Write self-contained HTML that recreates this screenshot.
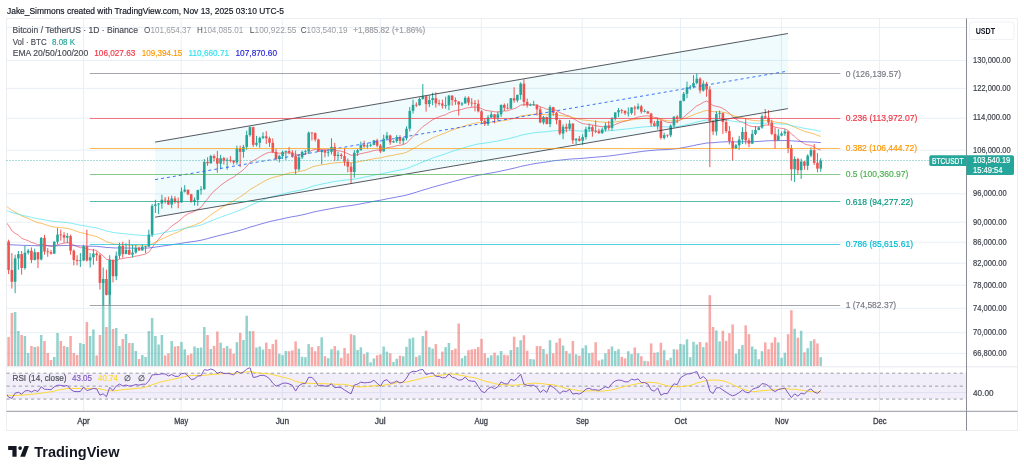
<!DOCTYPE html>
<html><head><meta charset="utf-8"><style>
html,body{margin:0;padding:0;background:#fff;width:1024px;height:473px;overflow:hidden}
svg{display:block;will-change:transform;filter:blur(0.3px)}
text{font-family:"Liberation Sans",sans-serif}
</style></head><body>
<svg width="1024" height="473" viewBox="0 0 1024 473" font-family="Liberation Sans, sans-serif">
<rect width="1024" height="473" fill="#fff"/>
<rect x="6.5" y="18.5" width="1011.0" height="412.0" fill="#fff" stroke="#eceef2" stroke-width="1"/>
<line x1="6.5" y1="27.4" x2="966.5" y2="27.4" stroke="#e8eff6" stroke-width="1"/>
<line x1="6.5" y1="60.4" x2="966.5" y2="60.4" stroke="#e8eff6" stroke-width="1"/>
<line x1="6.5" y1="88.3458985178234" x2="966.5" y2="88.3458985178234" stroke="#e8eff6" stroke-width="1"/>
<line x1="6.5" y1="118.18784090687825" x2="966.5" y2="118.18784090687825" stroke="#e8eff6" stroke-width="1"/>
<line x1="6.5" y1="150.2019567911467" x2="966.5" y2="150.2019567911467" stroke="#e8eff6" stroke-width="1"/>
<line x1="6.5" y1="193.80195395460836" x2="966.5" y2="193.80195395460836" stroke="#e8eff6" stroke-width="1"/>
<line x1="6.5" y1="222.19890325513964" x2="966.5" y2="222.19890325513964" stroke="#e8eff6" stroke-width="1"/>
<line x1="6.5" y1="242.20234784891286" x2="966.5" y2="242.20234784891286" stroke="#e8eff6" stroke-width="1"/>
<line x1="6.5" y1="263.1586894041849" x2="966.5" y2="263.1586894041849" stroke="#e8eff6" stroke-width="1"/>
<line x1="6.5" y1="285.1632744570359" x2="966.5" y2="285.1632744570359" stroke="#e8eff6" stroke-width="1"/>
<line x1="6.5" y1="308.3265171906216" x2="966.5" y2="308.3265171906216" stroke="#e8eff6" stroke-width="1"/>
<line x1="6.5" y1="332.7772516987383" x2="966.5" y2="332.7772516987383" stroke="#e8eff6" stroke-width="1"/>
<line x1="6.5" y1="353.36580276171225" x2="966.5" y2="353.36580276171225" stroke="#e8eff6" stroke-width="1"/>
<line x1="6.5" y1="392.6" x2="966.5" y2="392.6" stroke="#e8eff6" stroke-width="1"/>
<line x1="83.6" y1="18.5" x2="83.6" y2="411.3" stroke="#e8eff6" stroke-width="1"/>
<line x1="181.2" y1="18.5" x2="181.2" y2="411.3" stroke="#e8eff6" stroke-width="1"/>
<line x1="282.3" y1="18.5" x2="282.3" y2="411.3" stroke="#e8eff6" stroke-width="1"/>
<line x1="380.3" y1="18.5" x2="380.3" y2="411.3" stroke="#e8eff6" stroke-width="1"/>
<line x1="481.3" y1="18.5" x2="481.3" y2="411.3" stroke="#e8eff6" stroke-width="1"/>
<line x1="582.2" y1="18.5" x2="582.2" y2="411.3" stroke="#e8eff6" stroke-width="1"/>
<line x1="680.5" y1="18.5" x2="680.5" y2="411.3" stroke="#e8eff6" stroke-width="1"/>
<line x1="781.4" y1="18.5" x2="781.4" y2="411.3" stroke="#e8eff6" stroke-width="1"/>
<line x1="879.4" y1="18.5" x2="879.4" y2="411.3" stroke="#e8eff6" stroke-width="1"/>
<defs><clipPath id="mc"><rect x="7.0" y="19.0" width="959.5" height="347.8"/></clipPath><clipPath id="rc"><rect x="7.0" y="367.3" width="959.5" height="43.5"/></clipPath></defs>
<g clip-path="url(#mc)">
<rect x="7.35" y="337.00" width="2.5" height="29.00" fill="rgba(239,83,80,0.5)"/>
<rect x="10.61" y="313.00" width="2.5" height="53.00" fill="rgba(239,83,80,0.5)"/>
<rect x="13.87" y="312.00" width="2.5" height="54.00" fill="rgba(38,166,154,0.5)"/>
<rect x="17.13" y="331.00" width="2.5" height="35.00" fill="rgba(38,166,154,0.5)"/>
<rect x="20.40" y="335.00" width="2.5" height="31.00" fill="rgba(239,83,80,0.5)"/>
<rect x="23.66" y="336.00" width="2.5" height="30.00" fill="rgba(38,166,154,0.5)"/>
<rect x="26.92" y="353.00" width="2.5" height="13.00" fill="rgba(38,166,154,0.5)"/>
<rect x="30.18" y="346.00" width="2.5" height="20.00" fill="rgba(239,83,80,0.5)"/>
<rect x="33.44" y="347.00" width="2.5" height="19.00" fill="rgba(38,166,154,0.5)"/>
<rect x="36.70" y="346.50" width="2.5" height="19.50" fill="rgba(239,83,80,0.5)"/>
<rect x="39.96" y="335.00" width="2.5" height="31.00" fill="rgba(38,166,154,0.5)"/>
<rect x="43.23" y="341.00" width="2.5" height="25.00" fill="rgba(239,83,80,0.5)"/>
<rect x="46.49" y="353.00" width="2.5" height="13.00" fill="rgba(239,83,80,0.5)"/>
<rect x="49.75" y="360.00" width="2.5" height="6.00" fill="rgba(239,83,80,0.5)"/>
<rect x="53.01" y="357.00" width="2.5" height="9.00" fill="rgba(38,166,154,0.5)"/>
<rect x="56.27" y="333.00" width="2.5" height="33.00" fill="rgba(38,166,154,0.5)"/>
<rect x="59.53" y="341.00" width="2.5" height="25.00" fill="rgba(239,83,80,0.5)"/>
<rect x="62.80" y="346.00" width="2.5" height="20.00" fill="rgba(239,83,80,0.5)"/>
<rect x="66.06" y="347.00" width="2.5" height="19.00" fill="rgba(38,166,154,0.5)"/>
<rect x="69.32" y="336.00" width="2.5" height="30.00" fill="rgba(239,83,80,0.5)"/>
<rect x="72.58" y="353.00" width="2.5" height="13.00" fill="rgba(239,83,80,0.5)"/>
<rect x="75.84" y="355.00" width="2.5" height="11.00" fill="rgba(239,83,80,0.5)"/>
<rect x="79.10" y="343.00" width="2.5" height="23.00" fill="rgba(38,166,154,0.5)"/>
<rect x="82.36" y="344.00" width="2.5" height="22.00" fill="rgba(38,166,154,0.5)"/>
<rect x="85.63" y="322.00" width="2.5" height="44.00" fill="rgba(239,83,80,0.5)"/>
<rect x="88.89" y="336.00" width="2.5" height="30.00" fill="rgba(38,166,154,0.5)"/>
<rect x="92.15" y="329.50" width="2.5" height="36.50" fill="rgba(38,166,154,0.5)"/>
<rect x="95.41" y="355.40" width="2.5" height="10.60" fill="rgba(239,83,80,0.5)"/>
<rect x="98.67" y="335.00" width="2.5" height="31.00" fill="rgba(239,83,80,0.5)"/>
<rect x="101.93" y="281.00" width="2.5" height="85.00" fill="rgba(38,166,154,0.5)"/>
<rect x="105.19" y="327.00" width="2.5" height="39.00" fill="rgba(239,83,80,0.5)"/>
<rect x="108.46" y="291.00" width="2.5" height="75.00" fill="rgba(38,166,154,0.5)"/>
<rect x="111.72" y="329.00" width="2.5" height="37.00" fill="rgba(239,83,80,0.5)"/>
<rect x="114.98" y="328.00" width="2.5" height="38.00" fill="rgba(38,166,154,0.5)"/>
<rect x="118.24" y="346.00" width="2.5" height="20.00" fill="rgba(38,166,154,0.5)"/>
<rect x="121.50" y="339.00" width="2.5" height="27.00" fill="rgba(239,83,80,0.5)"/>
<rect x="124.76" y="334.00" width="2.5" height="32.00" fill="rgba(38,166,154,0.5)"/>
<rect x="128.03" y="343.00" width="2.5" height="23.00" fill="rgba(239,83,80,0.5)"/>
<rect x="131.29" y="343.00" width="2.5" height="23.00" fill="rgba(38,166,154,0.5)"/>
<rect x="134.55" y="351.00" width="2.5" height="15.00" fill="rgba(38,166,154,0.5)"/>
<rect x="137.81" y="359.00" width="2.5" height="7.00" fill="rgba(239,83,80,0.5)"/>
<rect x="141.07" y="355.00" width="2.5" height="11.00" fill="rgba(38,166,154,0.5)"/>
<rect x="144.33" y="357.00" width="2.5" height="9.00" fill="rgba(38,166,154,0.5)"/>
<rect x="147.59" y="331.00" width="2.5" height="35.00" fill="rgba(38,166,154,0.5)"/>
<rect x="150.86" y="318.00" width="2.5" height="48.00" fill="rgba(38,166,154,0.5)"/>
<rect x="154.12" y="336.00" width="2.5" height="30.00" fill="rgba(38,166,154,0.5)"/>
<rect x="157.38" y="344.50" width="2.5" height="21.50" fill="rgba(38,166,154,0.5)"/>
<rect x="160.64" y="335.00" width="2.5" height="31.00" fill="rgba(38,166,154,0.5)"/>
<rect x="163.90" y="355.40" width="2.5" height="10.60" fill="rgba(239,83,80,0.5)"/>
<rect x="167.16" y="353.30" width="2.5" height="12.70" fill="rgba(239,83,80,0.5)"/>
<rect x="170.42" y="341.00" width="2.5" height="25.00" fill="rgba(38,166,154,0.5)"/>
<rect x="173.69" y="346.50" width="2.5" height="19.50" fill="rgba(239,83,80,0.5)"/>
<rect x="176.95" y="346.00" width="2.5" height="20.00" fill="rgba(239,83,80,0.5)"/>
<rect x="180.21" y="342.00" width="2.5" height="24.00" fill="rgba(38,166,154,0.5)"/>
<rect x="183.47" y="349.30" width="2.5" height="16.70" fill="rgba(38,166,154,0.5)"/>
<rect x="186.73" y="355.20" width="2.5" height="10.80" fill="rgba(239,83,80,0.5)"/>
<rect x="189.99" y="353.70" width="2.5" height="12.30" fill="rgba(239,83,80,0.5)"/>
<rect x="193.26" y="346.50" width="2.5" height="19.50" fill="rgba(38,166,154,0.5)"/>
<rect x="196.52" y="348.00" width="2.5" height="18.00" fill="rgba(38,166,154,0.5)"/>
<rect x="199.78" y="347.50" width="2.5" height="18.50" fill="rgba(38,166,154,0.5)"/>
<rect x="203.04" y="327.00" width="2.5" height="39.00" fill="rgba(38,166,154,0.5)"/>
<rect x="206.30" y="335.00" width="2.5" height="31.00" fill="rgba(239,83,80,0.5)"/>
<rect x="209.56" y="349.00" width="2.5" height="17.00" fill="rgba(38,166,154,0.5)"/>
<rect x="212.82" y="345.90" width="2.5" height="20.10" fill="rgba(239,83,80,0.5)"/>
<rect x="216.09" y="331.50" width="2.5" height="34.50" fill="rgba(239,83,80,0.5)"/>
<rect x="219.35" y="342.60" width="2.5" height="23.40" fill="rgba(38,166,154,0.5)"/>
<rect x="222.61" y="348.00" width="2.5" height="18.00" fill="rgba(239,83,80,0.5)"/>
<rect x="225.87" y="346.10" width="2.5" height="19.90" fill="rgba(38,166,154,0.5)"/>
<rect x="229.13" y="348.60" width="2.5" height="17.40" fill="rgba(239,83,80,0.5)"/>
<rect x="232.39" y="353.70" width="2.5" height="12.30" fill="rgba(239,83,80,0.5)"/>
<rect x="235.65" y="342.20" width="2.5" height="23.80" fill="rgba(38,166,154,0.5)"/>
<rect x="238.92" y="332.80" width="2.5" height="33.20" fill="rgba(239,83,80,0.5)"/>
<rect x="242.18" y="340.00" width="2.5" height="26.00" fill="rgba(38,166,154,0.5)"/>
<rect x="245.44" y="315.80" width="2.5" height="50.20" fill="rgba(38,166,154,0.5)"/>
<rect x="248.70" y="331.10" width="2.5" height="34.90" fill="rgba(38,166,154,0.5)"/>
<rect x="251.96" y="331.10" width="2.5" height="34.90" fill="rgba(239,83,80,0.5)"/>
<rect x="255.22" y="347.50" width="2.5" height="18.50" fill="rgba(38,166,154,0.5)"/>
<rect x="258.49" y="346.50" width="2.5" height="19.50" fill="rgba(38,166,154,0.5)"/>
<rect x="261.75" y="349.60" width="2.5" height="16.40" fill="rgba(38,166,154,0.5)"/>
<rect x="265.01" y="342.60" width="2.5" height="23.40" fill="rgba(239,83,80,0.5)"/>
<rect x="268.27" y="349.00" width="2.5" height="17.00" fill="rgba(239,83,80,0.5)"/>
<rect x="271.53" y="344.10" width="2.5" height="21.90" fill="rgba(239,83,80,0.5)"/>
<rect x="274.79" y="339.70" width="2.5" height="26.30" fill="rgba(239,83,80,0.5)"/>
<rect x="278.05" y="353.70" width="2.5" height="12.30" fill="rgba(38,166,154,0.5)"/>
<rect x="281.32" y="355.10" width="2.5" height="10.90" fill="rgba(38,166,154,0.5)"/>
<rect x="284.58" y="351.00" width="2.5" height="15.00" fill="rgba(38,166,154,0.5)"/>
<rect x="287.84" y="351.20" width="2.5" height="14.80" fill="rgba(239,83,80,0.5)"/>
<rect x="291.10" y="350.40" width="2.5" height="15.60" fill="rgba(239,83,80,0.5)"/>
<rect x="294.36" y="341.40" width="2.5" height="24.60" fill="rgba(239,83,80,0.5)"/>
<rect x="297.62" y="348.60" width="2.5" height="17.40" fill="rgba(38,166,154,0.5)"/>
<rect x="300.88" y="356.80" width="2.5" height="9.20" fill="rgba(38,166,154,0.5)"/>
<rect x="304.15" y="357.20" width="2.5" height="8.80" fill="rgba(38,166,154,0.5)"/>
<rect x="307.41" y="344.10" width="2.5" height="21.90" fill="rgba(38,166,154,0.5)"/>
<rect x="310.67" y="347.10" width="2.5" height="18.90" fill="rgba(239,83,80,0.5)"/>
<rect x="313.93" y="351.20" width="2.5" height="14.80" fill="rgba(239,83,80,0.5)"/>
<rect x="317.19" y="346.10" width="2.5" height="19.90" fill="rgba(239,83,80,0.5)"/>
<rect x="320.45" y="337.30" width="2.5" height="28.70" fill="rgba(38,166,154,0.5)"/>
<rect x="323.72" y="356.20" width="2.5" height="9.80" fill="rgba(239,83,80,0.5)"/>
<rect x="326.98" y="358.20" width="2.5" height="7.80" fill="rgba(38,166,154,0.5)"/>
<rect x="330.24" y="349.20" width="2.5" height="16.80" fill="rgba(38,166,154,0.5)"/>
<rect x="333.50" y="346.10" width="2.5" height="19.90" fill="rgba(239,83,80,0.5)"/>
<rect x="336.76" y="350.40" width="2.5" height="15.60" fill="rgba(38,166,154,0.5)"/>
<rect x="340.02" y="357.80" width="2.5" height="8.20" fill="rgba(239,83,80,0.5)"/>
<rect x="343.28" y="348.00" width="2.5" height="18.00" fill="rgba(239,83,80,0.5)"/>
<rect x="346.55" y="353.70" width="2.5" height="12.30" fill="rgba(239,83,80,0.5)"/>
<rect x="349.81" y="334.20" width="2.5" height="31.80" fill="rgba(239,83,80,0.5)"/>
<rect x="353.07" y="335.20" width="2.5" height="30.80" fill="rgba(38,166,154,0.5)"/>
<rect x="356.33" y="350.00" width="2.5" height="16.00" fill="rgba(38,166,154,0.5)"/>
<rect x="359.59" y="347.30" width="2.5" height="18.70" fill="rgba(38,166,154,0.5)"/>
<rect x="362.85" y="354.10" width="2.5" height="11.90" fill="rgba(239,83,80,0.5)"/>
<rect x="366.12" y="352.30" width="2.5" height="13.70" fill="rgba(38,166,154,0.5)"/>
<rect x="369.38" y="362.30" width="2.5" height="3.70" fill="rgba(38,166,154,0.5)"/>
<rect x="372.64" y="358.40" width="2.5" height="7.60" fill="rgba(38,166,154,0.5)"/>
<rect x="375.90" y="355.30" width="2.5" height="10.70" fill="rgba(239,83,80,0.5)"/>
<rect x="379.16" y="354.30" width="2.5" height="11.70" fill="rgba(239,83,80,0.5)"/>
<rect x="382.42" y="346.50" width="2.5" height="19.50" fill="rgba(38,166,154,0.5)"/>
<rect x="385.68" y="351.60" width="2.5" height="14.40" fill="rgba(38,166,154,0.5)"/>
<rect x="388.95" y="353.30" width="2.5" height="12.70" fill="rgba(239,83,80,0.5)"/>
<rect x="392.21" y="361.90" width="2.5" height="4.10" fill="rgba(38,166,154,0.5)"/>
<rect x="395.47" y="358.80" width="2.5" height="7.20" fill="rgba(38,166,154,0.5)"/>
<rect x="398.73" y="355.70" width="2.5" height="10.30" fill="rgba(239,83,80,0.5)"/>
<rect x="401.99" y="356.20" width="2.5" height="9.80" fill="rgba(38,166,154,0.5)"/>
<rect x="405.25" y="346.90" width="2.5" height="19.10" fill="rgba(38,166,154,0.5)"/>
<rect x="408.51" y="338.70" width="2.5" height="27.30" fill="rgba(38,166,154,0.5)"/>
<rect x="411.78" y="337.70" width="2.5" height="28.30" fill="rgba(38,166,154,0.5)"/>
<rect x="415.04" y="356.80" width="2.5" height="9.20" fill="rgba(239,83,80,0.5)"/>
<rect x="418.30" y="355.30" width="2.5" height="10.70" fill="rgba(38,166,154,0.5)"/>
<rect x="421.56" y="336.10" width="2.5" height="29.90" fill="rgba(38,166,154,0.5)"/>
<rect x="424.82" y="330.70" width="2.5" height="35.30" fill="rgba(239,83,80,0.5)"/>
<rect x="428.08" y="347.10" width="2.5" height="18.90" fill="rgba(38,166,154,0.5)"/>
<rect x="431.35" y="348.60" width="2.5" height="17.40" fill="rgba(38,166,154,0.5)"/>
<rect x="434.61" y="344.10" width="2.5" height="21.90" fill="rgba(239,83,80,0.5)"/>
<rect x="437.87" y="358.80" width="2.5" height="7.20" fill="rgba(239,83,80,0.5)"/>
<rect x="441.13" y="351.60" width="2.5" height="14.40" fill="rgba(239,83,80,0.5)"/>
<rect x="444.39" y="347.10" width="2.5" height="18.90" fill="rgba(38,166,154,0.5)"/>
<rect x="447.65" y="343.00" width="2.5" height="23.00" fill="rgba(38,166,154,0.5)"/>
<rect x="450.91" y="350.00" width="2.5" height="16.00" fill="rgba(239,83,80,0.5)"/>
<rect x="454.18" y="348.60" width="2.5" height="17.40" fill="rgba(239,83,80,0.5)"/>
<rect x="457.44" y="323.50" width="2.5" height="42.50" fill="rgba(239,83,80,0.5)"/>
<rect x="460.70" y="358.20" width="2.5" height="7.80" fill="rgba(38,166,154,0.5)"/>
<rect x="463.96" y="355.70" width="2.5" height="10.30" fill="rgba(38,166,154,0.5)"/>
<rect x="467.22" y="350.20" width="2.5" height="15.80" fill="rgba(239,83,80,0.5)"/>
<rect x="470.48" y="349.40" width="2.5" height="16.60" fill="rgba(239,83,80,0.5)"/>
<rect x="473.74" y="349.00" width="2.5" height="17.00" fill="rgba(239,83,80,0.5)"/>
<rect x="477.01" y="347.10" width="2.5" height="18.90" fill="rgba(239,83,80,0.5)"/>
<rect x="480.27" y="338.90" width="2.5" height="27.10" fill="rgba(239,83,80,0.5)"/>
<rect x="483.53" y="353.30" width="2.5" height="12.70" fill="rgba(239,83,80,0.5)"/>
<rect x="486.79" y="357.80" width="2.5" height="8.20" fill="rgba(38,166,154,0.5)"/>
<rect x="490.05" y="355.30" width="2.5" height="10.70" fill="rgba(38,166,154,0.5)"/>
<rect x="493.31" y="352.70" width="2.5" height="13.30" fill="rgba(239,83,80,0.5)"/>
<rect x="496.57" y="355.30" width="2.5" height="10.70" fill="rgba(38,166,154,0.5)"/>
<rect x="499.84" y="351.00" width="2.5" height="15.00" fill="rgba(38,166,154,0.5)"/>
<rect x="503.10" y="354.70" width="2.5" height="11.30" fill="rgba(239,83,80,0.5)"/>
<rect x="506.36" y="355.30" width="2.5" height="10.70" fill="rgba(239,83,80,0.5)"/>
<rect x="509.62" y="350.00" width="2.5" height="16.00" fill="rgba(38,166,154,0.5)"/>
<rect x="512.88" y="336.70" width="2.5" height="29.30" fill="rgba(239,83,80,0.5)"/>
<rect x="516.14" y="347.10" width="2.5" height="18.90" fill="rgba(38,166,154,0.5)"/>
<rect x="519.41" y="340.20" width="2.5" height="25.80" fill="rgba(38,166,154,0.5)"/>
<rect x="522.67" y="335.20" width="2.5" height="30.80" fill="rgba(239,83,80,0.5)"/>
<rect x="525.93" y="350.80" width="2.5" height="15.20" fill="rgba(239,83,80,0.5)"/>
<rect x="529.19" y="359.00" width="2.5" height="7.00" fill="rgba(38,166,154,0.5)"/>
<rect x="532.45" y="359.40" width="2.5" height="6.60" fill="rgba(38,166,154,0.5)"/>
<rect x="535.71" y="346.10" width="2.5" height="19.90" fill="rgba(239,83,80,0.5)"/>
<rect x="538.97" y="346.10" width="2.5" height="19.90" fill="rgba(239,83,80,0.5)"/>
<rect x="542.24" y="349.00" width="2.5" height="17.00" fill="rgba(38,166,154,0.5)"/>
<rect x="545.50" y="354.10" width="2.5" height="11.90" fill="rgba(239,83,80,0.5)"/>
<rect x="548.76" y="340.20" width="2.5" height="25.80" fill="rgba(38,166,154,0.5)"/>
<rect x="552.02" y="353.30" width="2.5" height="12.70" fill="rgba(239,83,80,0.5)"/>
<rect x="555.28" y="342.60" width="2.5" height="23.40" fill="rgba(239,83,80,0.5)"/>
<rect x="558.54" y="338.30" width="2.5" height="27.70" fill="rgba(239,83,80,0.5)"/>
<rect x="561.80" y="345.50" width="2.5" height="20.50" fill="rgba(38,166,154,0.5)"/>
<rect x="565.07" y="351.00" width="2.5" height="15.00" fill="rgba(239,83,80,0.5)"/>
<rect x="568.33" y="353.70" width="2.5" height="12.30" fill="rgba(38,166,154,0.5)"/>
<rect x="571.59" y="341.00" width="2.5" height="25.00" fill="rgba(239,83,80,0.5)"/>
<rect x="574.85" y="354.30" width="2.5" height="11.70" fill="rgba(38,166,154,0.5)"/>
<rect x="578.11" y="355.70" width="2.5" height="10.30" fill="rgba(239,83,80,0.5)"/>
<rect x="581.37" y="348.20" width="2.5" height="17.80" fill="rgba(38,166,154,0.5)"/>
<rect x="584.64" y="345.30" width="2.5" height="20.70" fill="rgba(38,166,154,0.5)"/>
<rect x="587.90" y="353.10" width="2.5" height="12.90" fill="rgba(38,166,154,0.5)"/>
<rect x="591.16" y="352.70" width="2.5" height="13.30" fill="rgba(239,83,80,0.5)"/>
<rect x="594.42" y="342.20" width="2.5" height="23.80" fill="rgba(239,83,80,0.5)"/>
<rect x="597.68" y="360.50" width="2.5" height="5.50" fill="rgba(239,83,80,0.5)"/>
<rect x="600.94" y="359.40" width="2.5" height="6.60" fill="rgba(38,166,154,0.5)"/>
<rect x="604.20" y="353.30" width="2.5" height="12.70" fill="rgba(38,166,154,0.5)"/>
<rect x="607.47" y="349.20" width="2.5" height="16.80" fill="rgba(239,83,80,0.5)"/>
<rect x="610.73" y="346.50" width="2.5" height="19.50" fill="rgba(38,166,154,0.5)"/>
<rect x="613.99" y="351.00" width="2.5" height="15.00" fill="rgba(38,166,154,0.5)"/>
<rect x="617.25" y="349.20" width="2.5" height="16.80" fill="rgba(38,166,154,0.5)"/>
<rect x="620.51" y="356.80" width="2.5" height="9.20" fill="rgba(239,83,80,0.5)"/>
<rect x="623.77" y="358.40" width="2.5" height="7.60" fill="rgba(239,83,80,0.5)"/>
<rect x="627.03" y="351.20" width="2.5" height="14.80" fill="rgba(38,166,154,0.5)"/>
<rect x="630.30" y="354.10" width="2.5" height="11.90" fill="rgba(38,166,154,0.5)"/>
<rect x="633.56" y="347.50" width="2.5" height="18.50" fill="rgba(239,83,80,0.5)"/>
<rect x="636.82" y="353.30" width="2.5" height="12.70" fill="rgba(38,166,154,0.5)"/>
<rect x="640.08" y="356.20" width="2.5" height="9.80" fill="rgba(239,83,80,0.5)"/>
<rect x="643.34" y="360.90" width="2.5" height="5.10" fill="rgba(38,166,154,0.5)"/>
<rect x="646.60" y="361.30" width="2.5" height="4.70" fill="rgba(239,83,80,0.5)"/>
<rect x="649.87" y="343.40" width="2.5" height="22.60" fill="rgba(239,83,80,0.5)"/>
<rect x="653.13" y="352.70" width="2.5" height="13.30" fill="rgba(239,83,80,0.5)"/>
<rect x="656.39" y="352.30" width="2.5" height="13.70" fill="rgba(38,166,154,0.5)"/>
<rect x="659.65" y="342.80" width="2.5" height="23.20" fill="rgba(239,83,80,0.5)"/>
<rect x="662.91" y="350.20" width="2.5" height="15.80" fill="rgba(38,166,154,0.5)"/>
<rect x="666.17" y="360.30" width="2.5" height="5.70" fill="rgba(239,83,80,0.5)"/>
<rect x="669.43" y="357.80" width="2.5" height="8.20" fill="rgba(38,166,154,0.5)"/>
<rect x="672.70" y="349.20" width="2.5" height="16.80" fill="rgba(38,166,154,0.5)"/>
<rect x="675.96" y="349.60" width="2.5" height="16.40" fill="rgba(239,83,80,0.5)"/>
<rect x="679.22" y="343.90" width="2.5" height="22.10" fill="rgba(38,166,154,0.5)"/>
<rect x="682.48" y="344.50" width="2.5" height="21.50" fill="rgba(38,166,154,0.5)"/>
<rect x="685.74" y="339.30" width="2.5" height="26.70" fill="rgba(38,166,154,0.5)"/>
<rect x="689.00" y="357.20" width="2.5" height="8.80" fill="rgba(38,166,154,0.5)"/>
<rect x="692.26" y="341.80" width="2.5" height="24.20" fill="rgba(38,166,154,0.5)"/>
<rect x="695.53" y="344.50" width="2.5" height="21.50" fill="rgba(38,166,154,0.5)"/>
<rect x="698.79" y="342.00" width="2.5" height="24.00" fill="rgba(239,83,80,0.5)"/>
<rect x="702.05" y="347.10" width="2.5" height="18.90" fill="rgba(38,166,154,0.5)"/>
<rect x="705.31" y="342.40" width="2.5" height="23.60" fill="rgba(239,83,80,0.5)"/>
<rect x="708.57" y="295.20" width="2.5" height="70.80" fill="rgba(239,83,80,0.5)"/>
<rect x="711.83" y="327.00" width="2.5" height="39.00" fill="rgba(239,83,80,0.5)"/>
<rect x="715.10" y="330.50" width="2.5" height="35.50" fill="rgba(38,166,154,0.5)"/>
<rect x="718.36" y="341.40" width="2.5" height="24.60" fill="rgba(38,166,154,0.5)"/>
<rect x="721.62" y="330.70" width="2.5" height="35.30" fill="rgba(239,83,80,0.5)"/>
<rect x="724.88" y="340.80" width="2.5" height="25.20" fill="rgba(239,83,80,0.5)"/>
<rect x="728.14" y="333.20" width="2.5" height="32.80" fill="rgba(239,83,80,0.5)"/>
<rect x="731.40" y="324.40" width="2.5" height="41.60" fill="rgba(239,83,80,0.5)"/>
<rect x="734.66" y="353.70" width="2.5" height="12.30" fill="rgba(38,166,154,0.5)"/>
<rect x="737.93" y="349.00" width="2.5" height="17.00" fill="rgba(38,166,154,0.5)"/>
<rect x="741.19" y="345.10" width="2.5" height="20.90" fill="rgba(38,166,154,0.5)"/>
<rect x="744.45" y="325.40" width="2.5" height="40.60" fill="rgba(239,83,80,0.5)"/>
<rect x="747.71" y="334.20" width="2.5" height="31.80" fill="rgba(239,83,80,0.5)"/>
<rect x="750.97" y="346.50" width="2.5" height="19.50" fill="rgba(38,166,154,0.5)"/>
<rect x="754.23" y="349.20" width="2.5" height="16.80" fill="rgba(38,166,154,0.5)"/>
<rect x="757.50" y="359.20" width="2.5" height="6.80" fill="rgba(38,166,154,0.5)"/>
<rect x="760.76" y="351.20" width="2.5" height="14.80" fill="rgba(38,166,154,0.5)"/>
<rect x="764.02" y="342.40" width="2.5" height="23.60" fill="rgba(239,83,80,0.5)"/>
<rect x="767.28" y="349.20" width="2.5" height="16.80" fill="rgba(239,83,80,0.5)"/>
<rect x="770.54" y="342.60" width="2.5" height="23.40" fill="rgba(239,83,80,0.5)"/>
<rect x="773.80" y="337.30" width="2.5" height="28.70" fill="rgba(239,83,80,0.5)"/>
<rect x="777.06" y="342.40" width="2.5" height="23.60" fill="rgba(38,166,154,0.5)"/>
<rect x="780.33" y="357.80" width="2.5" height="8.20" fill="rgba(38,166,154,0.5)"/>
<rect x="783.59" y="352.70" width="2.5" height="13.30" fill="rgba(38,166,154,0.5)"/>
<rect x="786.85" y="334.20" width="2.5" height="31.80" fill="rgba(239,83,80,0.5)"/>
<rect x="790.11" y="310.20" width="2.5" height="55.80" fill="rgba(239,83,80,0.5)"/>
<rect x="793.37" y="328.70" width="2.5" height="37.30" fill="rgba(38,166,154,0.5)"/>
<rect x="796.63" y="337.70" width="2.5" height="28.30" fill="rgba(239,83,80,0.5)"/>
<rect x="799.89" y="330.70" width="2.5" height="35.30" fill="rgba(38,166,154,0.5)"/>
<rect x="803.16" y="352.30" width="2.5" height="13.70" fill="rgba(239,83,80,0.5)"/>
<rect x="806.42" y="348.20" width="2.5" height="17.80" fill="rgba(38,166,154,0.5)"/>
<rect x="809.68" y="341.00" width="2.5" height="25.00" fill="rgba(38,166,154,0.5)"/>
<rect x="812.94" y="339.30" width="2.5" height="26.70" fill="rgba(239,83,80,0.5)"/>
<rect x="816.20" y="343.40" width="2.5" height="22.60" fill="rgba(239,83,80,0.5)"/>
<rect x="819.46" y="357.20" width="2.5" height="8.80" fill="rgba(38,166,154,0.5)"/>
<polygon points="155.1,142.1 787.9,33.5 787.9,108.6 155.1,217.2" fill="rgba(0,188,212,0.062)"/>
<polyline points="5.34,221.22 8.60,225.64 11.86,230.69 15.12,233.25 18.38,235.20 21.65,238.22 24.91,239.58 28.17,240.63 31.43,242.43 34.69,243.35 37.95,244.86 41.21,244.19 44.48,244.88 47.74,245.57 51.00,246.33 54.26,245.89 57.52,244.80 60.78,243.87 64.05,243.27 67.31,242.58 70.57,243.35 73.83,244.91 77.09,246.42 80.35,247.74 83.61,247.60 86.88,248.81 90.14,249.61 93.40,249.99 96.66,250.48 99.92,253.47 103.18,255.84 106.44,259.41 109.71,259.46 112.97,261.03 116.23,260.52 119.49,259.10 122.75,258.62 126.01,257.79 129.28,257.49 132.54,257.02 135.80,256.14 139.06,255.59 142.32,254.75 145.58,253.97 148.84,252.08 152.11,247.47 155.37,243.19 158.63,239.25 161.89,235.34 165.15,231.88 168.41,229.19 171.67,226.17 174.94,223.82 178.20,221.73 181.46,218.76 184.72,215.91 187.98,213.80 191.24,212.63 194.51,211.39 197.77,209.32 201.03,207.37 204.29,202.84 207.55,198.91 210.81,194.65 214.07,191.04 217.34,188.36 220.60,185.39 223.86,182.98 227.12,180.73 230.38,178.78 233.64,177.19 236.90,174.38 240.17,172.19 243.43,169.72 246.69,166.30 249.95,162.42 253.21,160.71 256.47,158.97 259.74,156.93 263.00,154.92 266.26,153.31 269.52,152.30 272.78,152.26 276.04,152.90 279.30,153.20 282.57,153.07 285.83,152.87 289.09,152.86 292.35,153.12 295.61,154.64 298.87,154.89 302.13,154.60 305.40,154.30 308.66,152.20 311.92,150.34 315.18,149.30 318.44,149.55 321.70,149.61 324.97,149.90 328.23,150.09 331.49,149.78 334.75,150.38 338.01,150.80 341.27,151.29 344.53,152.26 347.80,153.61 351.06,155.32 354.32,155.07 357.58,154.61 360.84,153.67 364.10,152.98 367.37,152.28 370.63,151.56 373.89,150.48 377.15,150.02 380.41,150.16 383.67,149.05 386.93,147.75 390.20,147.23 393.46,146.65 396.72,145.73 399.98,145.26 403.24,144.59 406.50,143.06 409.76,139.89 413.03,136.44 416.29,133.37 419.55,129.97 422.81,126.66 426.07,124.46 429.33,122.08 432.60,119.74 435.86,118.16 439.12,116.75 442.38,115.68 445.64,114.68 448.90,112.82 452.16,111.59 455.43,110.62 458.69,110.04 461.95,109.40 465.21,108.28 468.47,107.74 471.73,107.33 474.99,106.99 478.26,107.39 481.52,108.66 484.78,110.10 488.04,110.79 491.30,111.13 494.56,111.76 497.82,112.01 501.09,111.32 504.35,110.99 507.61,110.77 510.87,109.56 514.13,108.68 517.39,107.35 520.66,105.04 523.92,104.74 527.18,104.79 530.44,104.79 533.70,104.79 536.96,105.22 540.22,106.84 543.49,107.80 546.75,109.32 550.01,109.11 553.27,109.46 556.53,110.46 559.79,112.61 563.05,113.94 566.32,115.32 569.58,116.11 572.84,118.36 576.10,120.26 579.36,122.17 582.62,123.57 585.89,124.10 589.15,124.39 592.41,125.03 595.67,125.62 598.93,126.33 602.19,126.63 605.45,126.53 608.72,126.67 611.98,125.89 615.24,124.59 618.50,123.19 621.76,122.01 625.02,121.16 628.28,120.38 631.55,119.14 634.81,118.13 638.07,117.00 641.33,116.49 644.59,116.01 647.85,115.78 651.12,116.48 654.38,117.38 657.64,117.71 660.90,119.60 664.16,121.05 667.42,122.39 670.68,122.69 673.95,122.11 677.21,121.74 680.47,119.70 683.73,117.16 686.99,114.23 690.25,111.55 693.51,108.75 696.78,105.80 700.04,104.32 703.30,102.31 706.56,101.07 709.82,102.95 713.08,105.59 716.35,106.38 719.61,107.03 722.87,108.44 726.13,110.55 729.39,113.37 732.65,116.61 735.91,119.25 739.18,121.15 742.44,122.16 745.70,123.86 748.96,125.70 752.22,126.48 755.48,126.81 758.75,126.88 762.01,125.85 765.27,125.08 768.53,124.83 771.79,125.69 775.05,127.10 778.31,127.89 781.58,128.42 784.84,128.72 788.10,130.53 791.36,134.08 794.62,136.39 797.88,139.50 801.14,141.55 804.41,143.81 807.67,144.92 810.93,145.42 814.19,147.05 817.45,149.06 820.71,150.14" fill="none" stroke="#f23645" stroke-width="0.85" stroke-opacity="0.72" stroke-linejoin="round"/>
<polyline points="5.34,205.41 8.60,207.78 11.86,210.45 15.12,212.24 18.38,213.81 21.65,215.81 24.91,217.20 28.17,218.47 31.43,220.03 34.69,221.24 37.95,222.68 41.21,223.27 44.48,224.34 47.74,225.40 51.00,226.47 54.26,227.06 57.52,227.35 60.78,227.66 64.05,228.04 67.31,228.36 70.57,229.21 73.83,230.38 77.09,231.54 80.35,232.64 83.61,233.17 86.88,234.21 90.14,235.09 93.40,235.80 96.66,236.55 99.92,238.28 103.18,239.80 106.44,241.84 109.71,242.53 112.97,243.81 116.23,244.27 119.49,244.33 122.75,244.71 126.01,244.91 129.28,245.29 132.54,245.57 135.80,245.66 139.06,245.85 142.32,245.89 145.58,245.92 148.84,245.47 152.11,243.85 155.37,242.23 158.63,240.65 161.89,238.97 165.15,237.39 168.41,236.05 171.67,234.51 174.94,233.20 178.20,231.95 181.46,230.29 184.72,228.62 187.98,227.23 191.24,226.19 194.51,225.13 197.77,223.70 201.03,222.30 204.29,219.77 207.55,217.41 210.81,214.84 214.07,212.47 217.34,210.45 220.60,208.28 223.86,206.32 227.12,204.40 230.38,202.60 233.64,200.95 236.90,198.78 240.17,196.84 243.43,194.77 246.69,192.27 249.95,189.53 253.21,187.69 256.47,185.84 259.74,183.86 263.00,181.89 266.26,180.10 269.52,178.58 272.78,177.50 276.04,176.76 279.30,175.93 282.57,174.96 285.83,173.99 289.09,173.14 292.35,172.44 295.61,172.32 298.87,171.72 302.13,170.92 305.40,170.14 308.66,168.61 311.92,167.16 315.18,166.05 318.44,165.48 321.70,164.87 324.97,164.39 328.23,163.89 331.49,163.21 334.75,162.93 338.01,162.61 341.27,162.35 344.53,162.32 347.80,162.49 351.06,162.85 354.32,162.45 357.58,161.96 360.84,161.28 364.10,160.69 367.37,160.09 370.63,159.48 373.89,158.72 377.15,158.20 380.41,157.93 383.67,157.16 386.93,156.29 390.20,155.74 393.46,155.16 396.72,154.44 399.98,153.89 403.24,153.27 406.50,152.28 409.76,150.58 413.03,148.70 416.29,146.91 419.55,144.93 422.81,142.92 426.07,141.33 429.33,139.64 432.60,137.94 435.86,136.53 439.12,135.19 442.38,133.99 445.64,132.83 448.90,131.31 452.16,130.04 455.43,128.89 458.69,127.90 461.95,126.92 465.21,125.74 468.47,124.81 471.73,123.95 474.99,123.14 478.26,122.67 481.52,122.60 484.78,122.66 488.04,122.45 491.30,122.13 494.56,121.96 497.82,121.66 501.09,120.99 504.35,120.47 507.61,120.00 510.87,119.12 514.13,118.37 517.39,117.43 520.66,116.05 523.92,115.49 527.18,115.08 530.44,114.68 533.70,114.28 536.96,114.09 540.22,114.42 543.49,114.52 546.75,114.89 550.01,114.58 553.27,114.51 556.53,114.73 559.79,115.45 563.05,115.89 566.32,116.39 569.58,116.67 572.84,117.57 576.10,118.38 579.36,119.24 582.62,119.93 585.89,120.28 589.15,120.55 592.41,120.96 595.67,121.36 598.93,121.82 602.19,122.12 605.45,122.25 608.72,122.47 611.98,122.32 615.24,121.93 618.50,121.46 621.76,121.04 625.02,120.73 628.28,120.43 631.55,119.91 634.81,119.47 638.07,118.95 641.33,118.66 644.59,118.37 647.85,118.19 651.12,118.38 654.38,118.68 657.64,118.76 660.90,119.50 664.16,120.10 667.42,120.69 670.68,120.88 673.95,120.71 677.21,120.61 680.47,119.82 683.73,118.77 686.99,117.49 690.25,116.25 693.51,114.90 696.78,113.42 700.04,112.50 703.30,111.33 706.56,110.45 709.82,110.87 713.08,111.66 716.35,111.75 719.61,111.81 722.87,112.21 726.13,112.93 729.39,114.01 732.65,115.31 735.91,116.45 739.18,117.33 742.44,117.89 745.70,118.75 748.96,119.70 752.22,120.25 755.48,120.63 758.75,120.90 762.01,120.71 765.27,120.60 768.53,120.67 771.79,121.18 775.05,121.93 778.31,122.46 781.58,122.89 784.84,123.22 788.10,124.17 791.36,125.86 794.62,127.11 797.88,128.72 801.14,129.96 804.41,131.32 807.67,132.25 810.93,132.94 814.19,134.07 817.45,135.38 820.71,136.34" fill="none" stroke="#ff9800" stroke-width="0.85" stroke-opacity="0.72" stroke-linejoin="round"/>
<polyline points="5.34,210.14 8.60,211.25 11.86,212.55 15.12,213.41 18.38,214.18 21.65,215.18 24.91,215.90 28.17,216.56 31.43,217.38 34.69,218.04 37.95,218.83 41.21,219.19 44.48,219.81 47.74,220.43 51.00,221.06 54.26,221.46 57.52,221.72 60.78,221.98 64.05,222.29 67.31,222.55 70.57,223.10 73.83,223.80 77.09,224.50 80.35,225.19 83.61,225.60 86.88,226.26 90.14,226.86 93.40,227.37 96.66,227.90 99.92,228.93 103.18,229.87 106.44,231.06 109.71,231.62 112.97,232.46 116.23,232.91 119.49,233.16 122.75,233.57 126.01,233.88 129.28,234.29 132.54,234.64 135.80,234.90 139.06,235.20 142.32,235.43 145.58,235.65 148.84,235.63 152.11,235.02 155.37,234.39 158.63,233.76 161.89,233.06 165.15,232.39 168.41,231.82 171.67,231.13 174.94,230.54 178.20,229.96 181.46,229.17 184.72,228.35 187.98,227.65 191.24,227.12 194.51,226.56 197.77,225.81 201.03,225.05 204.29,223.71 207.55,222.43 210.81,221.02 214.07,219.68 217.34,218.50 220.60,217.22 223.86,216.03 227.12,214.84 230.38,213.70 233.64,212.63 236.90,211.26 240.17,210.01 243.43,208.66 246.69,207.08 249.95,205.35 253.21,204.07 256.47,202.77 259.74,201.39 263.00,200.00 266.26,198.69 269.52,197.51 272.78,196.56 276.04,195.78 279.30,194.96 282.57,194.07 285.83,193.17 289.09,192.33 292.35,191.58 295.61,191.12 298.87,190.43 302.13,189.63 305.40,188.84 308.66,187.66 311.92,186.51 315.18,185.53 318.44,184.84 321.70,184.12 324.97,183.48 328.23,182.83 331.49,182.09 334.75,181.56 338.01,181.01 341.27,180.50 344.53,180.12 347.80,179.85 351.06,179.69 354.32,179.14 357.58,178.55 360.84,177.86 364.10,177.21 367.37,176.57 370.63,175.91 373.89,175.18 377.15,174.58 380.41,174.11 383.67,173.38 386.93,172.60 390.20,171.98 393.46,171.35 396.72,170.64 399.98,170.03 403.24,169.38 406.50,168.54 409.76,167.32 413.03,165.99 416.29,164.70 419.55,163.30 422.81,161.87 426.07,160.65 429.33,159.37 432.60,158.07 435.86,156.92 439.12,155.80 442.38,154.75 445.64,153.71 448.90,152.48 452.16,151.38 455.43,150.34 458.69,149.38 461.95,148.42 465.21,147.36 468.47,146.43 471.73,145.54 474.99,144.67 478.26,143.98 481.52,143.51 484.78,143.12 488.04,142.60 491.30,142.02 494.56,141.53 497.82,140.97 501.09,140.23 504.35,139.56 507.61,138.93 510.87,138.08 514.13,137.31 517.39,136.43 520.66,135.32 523.92,134.63 527.18,134.03 530.44,133.43 533.70,132.84 536.96,132.37 540.22,132.17 543.49,131.86 546.75,131.71 550.01,131.21 553.27,130.84 556.53,130.62 559.79,130.68 563.05,130.60 566.32,130.56 569.58,130.42 572.84,130.62 576.10,130.78 579.36,130.97 582.62,131.09 585.89,131.06 589.15,130.98 592.41,130.98 595.67,130.99 598.93,131.03 602.19,131.00 605.45,130.89 608.72,130.83 611.98,130.59 615.24,130.22 618.50,129.81 621.76,129.43 625.02,129.10 628.28,128.78 631.55,128.35 634.81,127.95 638.07,127.51 641.33,127.19 644.59,126.88 647.85,126.61 651.12,126.54 654.38,126.53 657.64,126.42 660.90,126.64 664.16,126.81 667.42,126.98 670.68,126.95 673.95,126.74 677.21,126.57 680.47,126.05 683.73,125.38 686.99,124.60 690.25,123.82 693.51,122.97 696.78,122.05 700.04,121.40 703.30,120.62 706.56,119.98 709.82,120.01 713.08,120.23 716.35,120.11 719.61,119.97 722.87,120.01 726.13,120.23 729.39,120.63 732.65,121.17 735.91,121.63 739.18,121.98 742.44,122.18 745.70,122.53 748.96,122.94 752.22,123.15 755.48,123.28 758.75,123.37 762.01,123.23 765.27,123.12 768.53,123.11 771.79,123.32 775.05,123.66 778.31,123.89 781.58,124.08 784.84,124.22 788.10,124.68 791.36,125.52 794.62,126.16 797.88,126.99 801.14,127.65 804.41,128.38 807.67,128.90 810.93,129.31 814.19,129.95 817.45,130.69 820.71,131.26" fill="none" stroke="#33e0f0" stroke-width="0.85" stroke-opacity="0.72" stroke-linejoin="round"/>
<polyline points="5.34,244.25 8.60,244.50 11.86,244.86 15.12,244.99 18.38,245.08 21.65,245.30 24.91,245.38 28.17,245.43 31.43,245.57 34.69,245.64 37.95,245.77 41.21,245.69 44.48,245.75 47.74,245.81 51.00,245.89 54.26,245.85 57.52,245.74 60.78,245.63 64.05,245.55 67.31,245.45 70.57,245.51 73.83,245.65 77.09,245.80 80.35,245.94 83.61,245.94 86.88,246.09 90.14,246.20 93.40,246.27 96.66,246.36 99.92,246.71 103.18,247.02 106.44,247.47 109.71,247.59 112.97,247.87 116.23,247.94 119.49,247.92 122.75,247.98 126.01,248.00 129.28,248.07 132.54,248.11 135.80,248.11 139.06,248.13 142.32,248.12 145.58,248.11 148.84,247.97 152.11,247.53 155.37,247.08 158.63,246.63 161.89,246.13 165.15,245.65 168.41,245.22 171.67,244.73 174.94,244.29 178.20,243.85 181.46,243.30 184.72,242.73 187.98,242.22 191.24,241.80 194.51,241.36 197.77,240.82 201.03,240.28 204.29,239.42 207.55,238.60 210.81,237.70 214.07,236.83 217.34,236.04 220.60,235.19 223.86,234.38 227.12,233.58 230.38,232.79 233.64,232.03 236.90,231.12 240.17,230.25 243.43,229.34 246.69,228.30 249.95,227.17 253.21,226.27 256.47,225.35 259.74,224.39 263.00,223.42 266.26,222.49 269.52,221.62 272.78,220.87 276.04,220.21 279.30,219.52 282.57,218.79 285.83,218.07 289.09,217.37 292.35,216.71 295.61,216.21 298.87,215.58 302.13,214.90 305.40,214.22 308.66,213.33 311.92,212.46 315.18,211.67 318.44,211.03 321.70,210.38 324.97,209.77 328.23,209.15 331.49,208.49 334.75,207.94 338.01,207.37 341.27,206.83 344.53,206.36 347.80,205.95 351.06,205.59 354.32,205.03 357.58,204.45 360.84,203.82 364.10,203.21 367.37,202.60 370.63,201.99 373.89,201.33 377.15,200.74 380.41,200.22 383.67,199.56 386.93,198.88 390.20,198.28 393.46,197.67 396.72,197.03 399.98,196.43 403.24,195.81 406.50,195.09 409.76,194.17 413.03,193.18 416.29,192.22 419.55,191.18 422.81,190.13 426.07,189.19 429.33,188.21 432.60,187.21 435.86,186.30 439.12,185.39 442.38,184.52 445.64,183.66 448.90,182.69 452.16,181.79 455.43,180.91 458.69,180.08 461.95,179.25 465.21,178.36 468.47,177.54 471.73,176.74 474.99,175.95 478.26,175.25 481.52,174.68 484.78,174.14 488.04,173.54 491.30,172.91 494.56,172.33 497.82,171.71 501.09,171.00 504.35,170.32 507.61,169.66 510.87,168.89 514.13,168.15 517.39,167.36 520.66,166.45 523.92,165.75 527.18,165.11 530.44,164.47 533.70,163.83 536.96,163.25 540.22,162.83 543.49,162.35 546.75,161.95 550.01,161.37 553.27,160.86 556.53,160.44 559.79,160.16 563.05,159.81 566.32,159.49 569.58,159.12 572.84,158.93 576.10,158.73 579.36,158.54 582.62,158.32 585.89,158.02 589.15,157.71 592.41,157.43 595.67,157.17 598.93,156.92 602.19,156.64 605.45,156.32 608.72,156.03 611.98,155.64 615.24,155.19 618.50,154.72 621.76,154.26 625.02,153.83 628.28,153.40 631.55,152.92 634.81,152.46 638.07,151.98 641.33,151.56 644.59,151.14 647.85,150.75 651.12,150.47 654.38,150.22 657.64,149.92 660.90,149.79 664.16,149.65 667.42,149.50 670.68,149.26 673.95,148.92 677.21,148.60 680.47,148.10 683.73,147.53 686.99,146.88 690.25,146.24 693.51,145.57 696.78,144.85 700.04,144.28 703.30,143.63 706.56,143.06 709.82,142.83 713.08,142.72 716.35,142.42 719.61,142.12 722.87,141.92 726.13,141.81 729.39,141.80 732.65,141.87 735.91,141.90 739.18,141.88 742.44,141.78 745.70,141.77 748.96,141.78 752.22,141.71 755.48,141.59 758.75,141.44 762.01,141.19 765.27,140.95 768.53,140.76 771.79,140.69 775.05,140.69 778.31,140.64 781.58,140.57 784.84,140.48 788.10,140.55 791.36,140.83 794.62,141.01 797.88,141.29 801.14,141.48 804.41,141.72 807.67,141.86 810.93,141.94 814.19,142.14 817.45,142.40 820.71,142.57" fill="none" stroke="#3030d8" stroke-width="0.85" stroke-opacity="0.72" stroke-linejoin="round"/>
<rect x="8.10" y="239.65" width="1.0" height="34.37" fill="#ef5350"/>
<rect x="7.30" y="241.44" width="2.6" height="28.59" fill="#ef5350"/>
<rect x="11.36" y="253.08" width="1.0" height="35.48" fill="#ef5350"/>
<rect x="10.56" y="270.03" width="2.6" height="11.76" fill="#ef5350"/>
<rect x="14.62" y="254.66" width="1.0" height="38.48" fill="#26a69a"/>
<rect x="13.82" y="258.36" width="2.6" height="23.44" fill="#26a69a"/>
<rect x="17.88" y="250.99" width="1.0" height="18.66" fill="#26a69a"/>
<rect x="17.08" y="254.13" width="2.6" height="4.23" fill="#26a69a"/>
<rect x="21.15" y="250.99" width="1.0" height="23.59" fill="#ef5350"/>
<rect x="20.35" y="254.13" width="2.6" height="13.88" fill="#ef5350"/>
<rect x="24.41" y="245.80" width="1.0" height="23.85" fill="#26a69a"/>
<rect x="23.61" y="252.71" width="2.6" height="15.30" fill="#26a69a"/>
<rect x="27.67" y="248.90" width="1.0" height="5.75" fill="#26a69a"/>
<rect x="26.87" y="250.73" width="2.6" height="1.99" fill="#26a69a"/>
<rect x="30.93" y="247.35" width="1.0" height="15.81" fill="#ef5350"/>
<rect x="30.13" y="250.73" width="2.6" height="9.22" fill="#ef5350"/>
<rect x="34.19" y="248.64" width="1.0" height="11.84" fill="#26a69a"/>
<rect x="33.39" y="252.19" width="2.6" height="7.76" fill="#26a69a"/>
<rect x="37.45" y="252.03" width="1.0" height="15.98" fill="#ef5350"/>
<rect x="36.65" y="252.19" width="2.6" height="7.23" fill="#ef5350"/>
<rect x="40.71" y="237.12" width="1.0" height="23.37" fill="#26a69a"/>
<rect x="39.91" y="237.87" width="2.6" height="21.54" fill="#26a69a"/>
<rect x="43.98" y="234.85" width="1.0" height="19.81" fill="#ef5350"/>
<rect x="43.18" y="237.87" width="2.6" height="13.63" fill="#ef5350"/>
<rect x="47.24" y="248.13" width="1.0" height="8.64" fill="#ef5350"/>
<rect x="46.44" y="251.42" width="2.6" height="0.80" fill="#ef5350"/>
<rect x="50.50" y="249.94" width="1.0" height="4.71" fill="#ef5350"/>
<rect x="49.70" y="252.14" width="2.6" height="1.47" fill="#ef5350"/>
<rect x="53.76" y="241.18" width="1.0" height="12.95" fill="#26a69a"/>
<rect x="52.96" y="241.79" width="2.6" height="11.81" fill="#26a69a"/>
<rect x="57.02" y="228.11" width="1.0" height="16.15" fill="#26a69a"/>
<rect x="56.22" y="234.59" width="2.6" height="7.20" fill="#26a69a"/>
<rect x="60.28" y="229.59" width="1.0" height="11.08" fill="#ef5350"/>
<rect x="59.48" y="234.45" width="2.6" height="0.80" fill="#ef5350"/>
<rect x="63.55" y="232.09" width="1.0" height="10.63" fill="#ef5350"/>
<rect x="62.75" y="235.10" width="2.6" height="2.52" fill="#ef5350"/>
<rect x="66.81" y="233.09" width="1.0" height="10.14" fill="#26a69a"/>
<rect x="66.01" y="236.11" width="2.6" height="1.52" fill="#26a69a"/>
<rect x="70.07" y="234.59" width="1.0" height="20.06" fill="#ef5350"/>
<rect x="69.27" y="236.11" width="2.6" height="14.62" fill="#ef5350"/>
<rect x="73.33" y="249.42" width="1.0" height="15.89" fill="#ef5350"/>
<rect x="72.53" y="250.73" width="2.6" height="9.22" fill="#ef5350"/>
<rect x="76.59" y="255.18" width="1.0" height="10.13" fill="#ef5350"/>
<rect x="75.79" y="259.95" width="2.6" height="1.07" fill="#ef5350"/>
<rect x="79.85" y="253.08" width="1.0" height="13.85" fill="#26a69a"/>
<rect x="79.05" y="260.35" width="2.6" height="0.80" fill="#26a69a"/>
<rect x="83.11" y="244.77" width="1.0" height="16.25" fill="#26a69a"/>
<rect x="82.31" y="246.31" width="2.6" height="14.17" fill="#26a69a"/>
<rect x="86.38" y="229.59" width="1.0" height="31.96" fill="#ef5350"/>
<rect x="85.58" y="246.31" width="2.6" height="14.17" fill="#ef5350"/>
<rect x="89.64" y="253.08" width="1.0" height="14.39" fill="#26a69a"/>
<rect x="88.84" y="257.30" width="2.6" height="3.19" fill="#26a69a"/>
<rect x="92.90" y="248.90" width="1.0" height="15.87" fill="#26a69a"/>
<rect x="92.10" y="253.60" width="2.6" height="3.69" fill="#26a69a"/>
<rect x="96.16" y="251.51" width="1.0" height="9.51" fill="#ef5350"/>
<rect x="95.36" y="253.60" width="2.6" height="1.58" fill="#ef5350"/>
<rect x="99.42" y="253.60" width="1.0" height="36.09" fill="#ef5350"/>
<rect x="98.62" y="255.18" width="2.6" height="27.73" fill="#ef5350"/>
<rect x="102.68" y="267.47" width="1.0" height="37.89" fill="#26a69a"/>
<rect x="101.88" y="279.00" width="2.6" height="3.91" fill="#26a69a"/>
<rect x="105.94" y="269.65" width="1.0" height="25.79" fill="#ef5350"/>
<rect x="105.14" y="279.00" width="2.6" height="15.86" fill="#ef5350"/>
<rect x="109.21" y="255.18" width="1.0" height="49.59" fill="#26a69a"/>
<rect x="108.41" y="259.95" width="2.6" height="34.91" fill="#26a69a"/>
<rect x="112.47" y="259.42" width="1.0" height="22.93" fill="#ef5350"/>
<rect x="111.67" y="259.95" width="2.6" height="16.28" fill="#ef5350"/>
<rect x="115.73" y="251.51" width="1.0" height="28.61" fill="#26a69a"/>
<rect x="114.93" y="255.71" width="2.6" height="20.52" fill="#26a69a"/>
<rect x="118.99" y="242.71" width="1.0" height="16.17" fill="#26a69a"/>
<rect x="118.19" y="245.80" width="2.6" height="9.91" fill="#26a69a"/>
<rect x="122.25" y="241.69" width="1.0" height="16.13" fill="#ef5350"/>
<rect x="121.45" y="245.80" width="2.6" height="8.33" fill="#ef5350"/>
<rect x="125.51" y="243.23" width="1.0" height="10.90" fill="#26a69a"/>
<rect x="124.71" y="249.94" width="2.6" height="4.19" fill="#26a69a"/>
<rect x="128.78" y="239.65" width="1.0" height="15.00" fill="#ef5350"/>
<rect x="127.98" y="249.94" width="2.6" height="4.71" fill="#ef5350"/>
<rect x="132.04" y="244.77" width="1.0" height="12.53" fill="#26a69a"/>
<rect x="131.24" y="252.56" width="2.6" height="2.10" fill="#26a69a"/>
<rect x="135.30" y="244.77" width="1.0" height="8.84" fill="#26a69a"/>
<rect x="134.50" y="247.87" width="2.6" height="4.69" fill="#26a69a"/>
<rect x="138.56" y="246.83" width="1.0" height="4.16" fill="#ef5350"/>
<rect x="137.76" y="247.87" width="2.6" height="2.60" fill="#ef5350"/>
<rect x="141.82" y="244.25" width="1.0" height="6.21" fill="#26a69a"/>
<rect x="141.02" y="246.83" width="2.6" height="3.63" fill="#26a69a"/>
<rect x="145.08" y="245.80" width="1.0" height="7.28" fill="#26a69a"/>
<rect x="144.28" y="246.30" width="2.6" height="0.80" fill="#26a69a"/>
<rect x="148.34" y="229.59" width="1.0" height="17.24" fill="#26a69a"/>
<rect x="147.54" y="234.59" width="2.6" height="11.98" fill="#26a69a"/>
<rect x="151.61" y="204.00" width="1.0" height="33.11" fill="#26a69a"/>
<rect x="150.81" y="205.88" width="2.6" height="28.71" fill="#26a69a"/>
<rect x="154.87" y="199.80" width="1.0" height="13.21" fill="#26a69a"/>
<rect x="154.07" y="204.47" width="2.6" height="1.41" fill="#26a69a"/>
<rect x="158.13" y="203.07" width="1.0" height="10.90" fill="#26a69a"/>
<rect x="157.33" y="203.53" width="2.6" height="0.94" fill="#26a69a"/>
<rect x="161.39" y="194.72" width="1.0" height="14.00" fill="#26a69a"/>
<rect x="160.59" y="199.80" width="2.6" height="3.73" fill="#26a69a"/>
<rect x="164.65" y="197.02" width="1.0" height="6.51" fill="#ef5350"/>
<rect x="163.85" y="199.63" width="2.6" height="0.80" fill="#ef5350"/>
<rect x="167.91" y="196.56" width="1.0" height="8.38" fill="#ef5350"/>
<rect x="167.11" y="200.27" width="2.6" height="4.21" fill="#ef5350"/>
<rect x="171.17" y="195.64" width="1.0" height="12.61" fill="#26a69a"/>
<rect x="170.37" y="198.41" width="2.6" height="6.06" fill="#26a69a"/>
<rect x="174.44" y="196.10" width="1.0" height="7.43" fill="#ef5350"/>
<rect x="173.64" y="198.41" width="2.6" height="3.72" fill="#ef5350"/>
<rect x="177.70" y="197.48" width="1.0" height="10.76" fill="#ef5350"/>
<rect x="176.90" y="201.85" width="2.6" height="0.80" fill="#ef5350"/>
<rect x="180.96" y="187.43" width="1.0" height="15.17" fill="#26a69a"/>
<rect x="180.16" y="191.52" width="2.6" height="10.85" fill="#26a69a"/>
<rect x="184.22" y="185.18" width="1.0" height="7.25" fill="#26a69a"/>
<rect x="183.42" y="189.70" width="2.6" height="1.82" fill="#26a69a"/>
<rect x="187.48" y="189.70" width="1.0" height="5.48" fill="#ef5350"/>
<rect x="186.68" y="189.70" width="2.6" height="4.56" fill="#ef5350"/>
<rect x="190.74" y="193.80" width="1.0" height="8.80" fill="#ef5350"/>
<rect x="189.94" y="194.26" width="2.6" height="7.40" fill="#ef5350"/>
<rect x="194.01" y="197.48" width="1.0" height="7.93" fill="#26a69a"/>
<rect x="193.21" y="199.80" width="2.6" height="1.86" fill="#26a69a"/>
<rect x="197.27" y="189.70" width="1.0" height="16.19" fill="#26a69a"/>
<rect x="196.47" y="190.15" width="2.6" height="9.65" fill="#26a69a"/>
<rect x="200.53" y="186.08" width="1.0" height="8.64" fill="#26a69a"/>
<rect x="199.73" y="189.24" width="2.6" height="0.91" fill="#26a69a"/>
<rect x="203.79" y="159.01" width="1.0" height="30.69" fill="#26a69a"/>
<rect x="202.99" y="161.98" width="2.6" height="27.26" fill="#26a69a"/>
<rect x="207.05" y="157.32" width="1.0" height="8.52" fill="#ef5350"/>
<rect x="206.25" y="161.98" width="2.6" height="1.28" fill="#ef5350"/>
<rect x="210.31" y="154.79" width="1.0" height="8.90" fill="#26a69a"/>
<rect x="209.51" y="156.05" width="2.6" height="7.21" fill="#26a69a"/>
<rect x="213.57" y="154.37" width="1.0" height="7.18" fill="#ef5350"/>
<rect x="212.77" y="156.05" width="2.6" height="2.11" fill="#ef5350"/>
<rect x="216.84" y="151.03" width="1.0" height="21.74" fill="#ef5350"/>
<rect x="216.04" y="158.16" width="2.6" height="5.53" fill="#ef5350"/>
<rect x="220.10" y="154.79" width="1.0" height="14.50" fill="#26a69a"/>
<rect x="219.30" y="158.16" width="2.6" height="5.53" fill="#26a69a"/>
<rect x="223.36" y="156.89" width="1.0" height="7.65" fill="#ef5350"/>
<rect x="222.56" y="158.16" width="2.6" height="2.54" fill="#ef5350"/>
<rect x="226.62" y="157.74" width="1.0" height="11.99" fill="#26a69a"/>
<rect x="225.82" y="159.85" width="2.6" height="0.85" fill="#26a69a"/>
<rect x="229.88" y="156.05" width="1.0" height="6.36" fill="#ef5350"/>
<rect x="229.08" y="159.85" width="2.6" height="0.85" fill="#ef5350"/>
<rect x="233.14" y="159.85" width="1.0" height="4.69" fill="#ef5350"/>
<rect x="232.34" y="160.70" width="2.6" height="1.70" fill="#ef5350"/>
<rect x="236.40" y="145.66" width="1.0" height="18.89" fill="#26a69a"/>
<rect x="235.60" y="148.54" width="2.6" height="13.86" fill="#26a69a"/>
<rect x="239.67" y="145.66" width="1.0" height="21.47" fill="#ef5350"/>
<rect x="238.87" y="148.54" width="2.6" height="3.32" fill="#ef5350"/>
<rect x="242.93" y="144.84" width="1.0" height="12.90" fill="#26a69a"/>
<rect x="242.13" y="146.89" width="2.6" height="4.97" fill="#26a69a"/>
<rect x="246.19" y="130.72" width="1.0" height="19.07" fill="#26a69a"/>
<rect x="245.39" y="135.11" width="2.6" height="11.79" fill="#26a69a"/>
<rect x="249.45" y="126.37" width="1.0" height="10.34" fill="#26a69a"/>
<rect x="248.65" y="127.16" width="2.6" height="7.95" fill="#26a69a"/>
<rect x="252.71" y="126.76" width="1.0" height="20.13" fill="#ef5350"/>
<rect x="251.91" y="127.16" width="2.6" height="17.68" fill="#ef5350"/>
<rect x="255.97" y="135.91" width="1.0" height="10.57" fill="#26a69a"/>
<rect x="255.17" y="142.79" width="2.6" height="2.05" fill="#26a69a"/>
<rect x="259.24" y="136.71" width="1.0" height="11.01" fill="#26a69a"/>
<rect x="258.44" y="137.92" width="2.6" height="4.87" fill="#26a69a"/>
<rect x="262.50" y="132.31" width="1.0" height="6.83" fill="#26a69a"/>
<rect x="261.70" y="136.31" width="2.6" height="1.61" fill="#26a69a"/>
<rect x="265.76" y="131.11" width="1.0" height="12.91" fill="#ef5350"/>
<rect x="264.96" y="136.31" width="2.6" height="2.02" fill="#ef5350"/>
<rect x="269.02" y="136.71" width="1.0" height="10.18" fill="#ef5350"/>
<rect x="268.22" y="138.33" width="2.6" height="4.47" fill="#ef5350"/>
<rect x="272.28" y="138.33" width="1.0" height="14.79" fill="#ef5350"/>
<rect x="271.48" y="142.79" width="2.6" height="9.07" fill="#ef5350"/>
<rect x="275.54" y="148.96" width="1.0" height="11.32" fill="#ef5350"/>
<rect x="274.74" y="151.87" width="2.6" height="7.14" fill="#ef5350"/>
<rect x="278.80" y="154.79" width="1.0" height="7.62" fill="#26a69a"/>
<rect x="278.00" y="156.05" width="2.6" height="2.95" fill="#26a69a"/>
<rect x="282.07" y="150.62" width="1.0" height="8.39" fill="#26a69a"/>
<rect x="281.27" y="151.87" width="2.6" height="4.19" fill="#26a69a"/>
<rect x="285.33" y="150.62" width="1.0" height="9.24" fill="#26a69a"/>
<rect x="284.53" y="151.03" width="2.6" height="0.83" fill="#26a69a"/>
<rect x="288.59" y="146.89" width="1.0" height="7.48" fill="#ef5350"/>
<rect x="287.79" y="151.03" width="2.6" height="1.67" fill="#ef5350"/>
<rect x="291.85" y="150.20" width="1.0" height="7.54" fill="#ef5350"/>
<rect x="291.05" y="152.70" width="2.6" height="2.93" fill="#ef5350"/>
<rect x="295.11" y="150.62" width="1.0" height="23.47" fill="#ef5350"/>
<rect x="294.31" y="155.63" width="2.6" height="13.66" fill="#ef5350"/>
<rect x="298.37" y="154.37" width="1.0" height="16.65" fill="#26a69a"/>
<rect x="297.57" y="157.32" width="2.6" height="11.97" fill="#26a69a"/>
<rect x="301.63" y="150.62" width="1.0" height="8.39" fill="#26a69a"/>
<rect x="300.83" y="151.87" width="2.6" height="5.45" fill="#26a69a"/>
<rect x="304.90" y="149.79" width="1.0" height="5.00" fill="#26a69a"/>
<rect x="304.10" y="151.26" width="2.6" height="0.80" fill="#26a69a"/>
<rect x="308.16" y="131.51" width="1.0" height="22.44" fill="#26a69a"/>
<rect x="307.36" y="132.71" width="2.6" height="18.74" fill="#26a69a"/>
<rect x="311.42" y="132.31" width="1.0" height="8.04" fill="#ef5350"/>
<rect x="310.62" y="132.50" width="2.6" height="0.80" fill="#ef5350"/>
<rect x="314.68" y="132.31" width="1.0" height="9.26" fill="#ef5350"/>
<rect x="313.88" y="133.10" width="2.6" height="6.44" fill="#ef5350"/>
<rect x="317.94" y="138.73" width="1.0" height="12.72" fill="#ef5350"/>
<rect x="317.14" y="139.54" width="2.6" height="12.33" fill="#ef5350"/>
<rect x="321.20" y="149.37" width="1.0" height="14.75" fill="#26a69a"/>
<rect x="320.40" y="150.20" width="2.6" height="1.66" fill="#26a69a"/>
<rect x="324.47" y="149.37" width="1.0" height="7.94" fill="#ef5350"/>
<rect x="323.67" y="150.20" width="2.6" height="2.50" fill="#ef5350"/>
<rect x="327.73" y="150.20" width="1.0" height="6.27" fill="#26a69a"/>
<rect x="326.93" y="151.87" width="2.6" height="0.83" fill="#26a69a"/>
<rect x="330.99" y="138.33" width="1.0" height="16.05" fill="#26a69a"/>
<rect x="330.19" y="146.89" width="2.6" height="4.97" fill="#26a69a"/>
<rect x="334.25" y="142.79" width="1.0" height="18.34" fill="#ef5350"/>
<rect x="333.45" y="146.89" width="2.6" height="9.16" fill="#ef5350"/>
<rect x="337.51" y="151.87" width="1.0" height="8.84" fill="#26a69a"/>
<rect x="336.71" y="154.79" width="2.6" height="1.26" fill="#26a69a"/>
<rect x="340.77" y="153.12" width="1.0" height="5.89" fill="#ef5350"/>
<rect x="339.97" y="154.79" width="2.6" height="1.26" fill="#ef5350"/>
<rect x="344.03" y="148.13" width="1.0" height="17.70" fill="#ef5350"/>
<rect x="343.23" y="156.05" width="2.6" height="5.50" fill="#ef5350"/>
<rect x="347.30" y="158.58" width="1.0" height="13.75" fill="#ef5350"/>
<rect x="346.50" y="161.55" width="2.6" height="5.14" fill="#ef5350"/>
<rect x="350.56" y="162.83" width="1.0" height="21.00" fill="#ef5350"/>
<rect x="349.76" y="166.70" width="2.6" height="5.20" fill="#ef5350"/>
<rect x="353.82" y="150.20" width="1.0" height="27.40" fill="#26a69a"/>
<rect x="353.02" y="152.70" width="2.6" height="19.20" fill="#26a69a"/>
<rect x="357.08" y="148.96" width="1.0" height="7.09" fill="#26a69a"/>
<rect x="356.28" y="150.20" width="2.6" height="2.50" fill="#26a69a"/>
<rect x="360.34" y="141.57" width="1.0" height="9.05" fill="#26a69a"/>
<rect x="359.54" y="144.84" width="2.6" height="5.36" fill="#26a69a"/>
<rect x="363.60" y="140.76" width="1.0" height="6.96" fill="#ef5350"/>
<rect x="362.80" y="144.84" width="2.6" height="1.64" fill="#ef5350"/>
<rect x="366.87" y="142.79" width="1.0" height="5.75" fill="#26a69a"/>
<rect x="366.06" y="145.66" width="2.6" height="0.82" fill="#26a69a"/>
<rect x="370.13" y="143.61" width="1.0" height="3.28" fill="#26a69a"/>
<rect x="369.33" y="144.84" width="2.6" height="0.82" fill="#26a69a"/>
<rect x="373.39" y="139.95" width="1.0" height="5.30" fill="#26a69a"/>
<rect x="372.59" y="140.35" width="2.6" height="4.49" fill="#26a69a"/>
<rect x="376.65" y="138.73" width="1.0" height="8.58" fill="#ef5350"/>
<rect x="375.85" y="140.35" width="2.6" height="5.31" fill="#ef5350"/>
<rect x="379.91" y="144.02" width="1.0" height="9.10" fill="#ef5350"/>
<rect x="379.11" y="145.66" width="2.6" height="5.79" fill="#ef5350"/>
<rect x="383.17" y="134.70" width="1.0" height="16.74" fill="#26a69a"/>
<rect x="382.37" y="138.73" width="2.6" height="12.72" fill="#26a69a"/>
<rect x="386.43" y="131.91" width="1.0" height="7.63" fill="#26a69a"/>
<rect x="385.63" y="135.51" width="2.6" height="3.22" fill="#26a69a"/>
<rect x="389.70" y="134.70" width="1.0" height="10.13" fill="#ef5350"/>
<rect x="388.90" y="135.51" width="2.6" height="6.88" fill="#ef5350"/>
<rect x="392.96" y="140.35" width="1.0" height="2.44" fill="#26a69a"/>
<rect x="392.16" y="141.16" width="2.6" height="1.22" fill="#26a69a"/>
<rect x="396.22" y="135.11" width="1.0" height="7.69" fill="#26a69a"/>
<rect x="395.42" y="137.12" width="2.6" height="4.05" fill="#26a69a"/>
<rect x="399.48" y="135.11" width="1.0" height="8.91" fill="#ef5350"/>
<rect x="398.68" y="137.12" width="2.6" height="3.64" fill="#ef5350"/>
<rect x="402.74" y="137.12" width="1.0" height="7.31" fill="#26a69a"/>
<rect x="401.94" y="138.33" width="2.6" height="2.43" fill="#26a69a"/>
<rect x="406.00" y="126.37" width="1.0" height="13.98" fill="#26a69a"/>
<rect x="405.20" y="128.73" width="2.6" height="9.59" fill="#26a69a"/>
<rect x="409.26" y="107.13" width="1.0" height="24.38" fill="#26a69a"/>
<rect x="408.46" y="110.91" width="2.6" height="17.82" fill="#26a69a"/>
<rect x="412.53" y="99.67" width="1.0" height="13.91" fill="#26a69a"/>
<rect x="411.73" y="104.88" width="2.6" height="6.03" fill="#26a69a"/>
<rect x="415.79" y="102.27" width="1.0" height="4.87" fill="#ef5350"/>
<rect x="414.99" y="104.67" width="2.6" height="0.80" fill="#ef5350"/>
<rect x="419.05" y="97.46" width="1.0" height="8.18" fill="#26a69a"/>
<rect x="418.25" y="98.93" width="2.6" height="6.33" fill="#26a69a"/>
<rect x="422.31" y="84.04" width="1.0" height="15.63" fill="#26a69a"/>
<rect x="421.51" y="96.35" width="2.6" height="2.58" fill="#26a69a"/>
<rect x="425.57" y="95.99" width="1.0" height="15.69" fill="#ef5350"/>
<rect x="424.77" y="96.35" width="2.6" height="7.78" fill="#ef5350"/>
<rect x="428.83" y="95.25" width="1.0" height="11.88" fill="#26a69a"/>
<rect x="428.03" y="100.04" width="2.6" height="4.09" fill="#26a69a"/>
<rect x="432.10" y="92.70" width="1.0" height="12.56" fill="#26a69a"/>
<rect x="431.30" y="98.19" width="2.6" height="1.85" fill="#26a69a"/>
<rect x="435.36" y="92.33" width="1.0" height="15.18" fill="#ef5350"/>
<rect x="434.56" y="98.19" width="2.6" height="5.19" fill="#ef5350"/>
<rect x="438.62" y="99.67" width="1.0" height="5.96" fill="#ef5350"/>
<rect x="437.82" y="103.08" width="2.6" height="0.80" fill="#ef5350"/>
<rect x="441.88" y="99.67" width="1.0" height="8.97" fill="#ef5350"/>
<rect x="441.08" y="103.57" width="2.6" height="2.06" fill="#ef5350"/>
<rect x="445.14" y="96.72" width="1.0" height="11.92" fill="#26a69a"/>
<rect x="444.34" y="105.04" width="2.6" height="0.80" fill="#26a69a"/>
<rect x="448.40" y="94.89" width="1.0" height="15.27" fill="#26a69a"/>
<rect x="447.60" y="95.62" width="2.6" height="9.64" fill="#26a69a"/>
<rect x="451.66" y="95.25" width="1.0" height="10.38" fill="#ef5350"/>
<rect x="450.86" y="95.62" width="2.6" height="4.42" fill="#ef5350"/>
<rect x="454.93" y="97.46" width="1.0" height="7.43" fill="#ef5350"/>
<rect x="454.13" y="100.04" width="2.6" height="1.48" fill="#ef5350"/>
<rect x="458.19" y="101.15" width="1.0" height="14.34" fill="#ef5350"/>
<rect x="457.39" y="101.52" width="2.6" height="2.98" fill="#ef5350"/>
<rect x="461.45" y="101.90" width="1.0" height="4.11" fill="#26a69a"/>
<rect x="460.65" y="103.39" width="2.6" height="1.12" fill="#26a69a"/>
<rect x="464.71" y="96.35" width="1.0" height="7.41" fill="#26a69a"/>
<rect x="463.91" y="97.82" width="2.6" height="5.56" fill="#26a69a"/>
<rect x="467.97" y="96.35" width="1.0" height="8.90" fill="#ef5350"/>
<rect x="467.17" y="97.82" width="2.6" height="4.82" fill="#ef5350"/>
<rect x="471.23" y="98.19" width="1.0" height="8.57" fill="#ef5350"/>
<rect x="470.43" y="102.61" width="2.6" height="0.80" fill="#ef5350"/>
<rect x="474.49" y="100.04" width="1.0" height="11.25" fill="#ef5350"/>
<rect x="473.69" y="103.17" width="2.6" height="0.80" fill="#ef5350"/>
<rect x="477.76" y="99.67" width="1.0" height="12.77" fill="#ef5350"/>
<rect x="476.96" y="103.76" width="2.6" height="7.53" fill="#ef5350"/>
<rect x="481.02" y="110.16" width="1.0" height="13.08" fill="#ef5350"/>
<rect x="480.22" y="111.29" width="2.6" height="9.60" fill="#ef5350"/>
<rect x="484.28" y="118.19" width="1.0" height="7.79" fill="#ef5350"/>
<rect x="483.48" y="120.90" width="2.6" height="3.12" fill="#ef5350"/>
<rect x="487.54" y="115.11" width="1.0" height="10.86" fill="#26a69a"/>
<rect x="486.74" y="117.42" width="2.6" height="6.60" fill="#26a69a"/>
<rect x="490.80" y="111.67" width="1.0" height="6.13" fill="#26a69a"/>
<rect x="490.00" y="114.35" width="2.6" height="3.07" fill="#26a69a"/>
<rect x="494.06" y="113.96" width="1.0" height="9.27" fill="#ef5350"/>
<rect x="493.26" y="114.35" width="2.6" height="3.46" fill="#ef5350"/>
<rect x="497.32" y="111.67" width="1.0" height="9.22" fill="#26a69a"/>
<rect x="496.52" y="114.35" width="2.6" height="3.46" fill="#26a69a"/>
<rect x="500.59" y="104.51" width="1.0" height="12.52" fill="#26a69a"/>
<rect x="499.79" y="104.88" width="2.6" height="9.46" fill="#26a69a"/>
<rect x="503.85" y="103.39" width="1.0" height="7.53" fill="#ef5350"/>
<rect x="503.05" y="104.88" width="2.6" height="3.01" fill="#ef5350"/>
<rect x="507.11" y="103.39" width="1.0" height="6.01" fill="#ef5350"/>
<rect x="506.31" y="107.87" width="2.6" height="0.80" fill="#ef5350"/>
<rect x="510.37" y="98.19" width="1.0" height="10.45" fill="#26a69a"/>
<rect x="509.57" y="98.19" width="2.6" height="10.45" fill="#26a69a"/>
<rect x="513.63" y="87.27" width="1.0" height="15.38" fill="#ef5350"/>
<rect x="512.83" y="98.19" width="2.6" height="2.22" fill="#ef5350"/>
<rect x="516.89" y="94.52" width="1.0" height="7.75" fill="#26a69a"/>
<rect x="516.09" y="94.89" width="2.6" height="5.53" fill="#26a69a"/>
<rect x="520.16" y="82.26" width="1.0" height="17.41" fill="#26a69a"/>
<rect x="519.36" y="83.68" width="2.6" height="11.20" fill="#26a69a"/>
<rect x="523.42" y="79.42" width="1.0" height="26.59" fill="#ef5350"/>
<rect x="522.62" y="83.68" width="2.6" height="18.21" fill="#ef5350"/>
<rect x="526.68" y="98.56" width="1.0" height="8.95" fill="#ef5350"/>
<rect x="525.88" y="101.90" width="2.6" height="3.36" fill="#ef5350"/>
<rect x="529.94" y="103.39" width="1.0" height="2.62" fill="#26a69a"/>
<rect x="529.14" y="104.67" width="2.6" height="0.80" fill="#26a69a"/>
<rect x="533.20" y="100.78" width="1.0" height="5.22" fill="#26a69a"/>
<rect x="532.40" y="104.39" width="2.6" height="0.80" fill="#26a69a"/>
<rect x="536.46" y="104.51" width="1.0" height="10.99" fill="#ef5350"/>
<rect x="535.66" y="104.70" width="2.6" height="4.70" fill="#ef5350"/>
<rect x="539.72" y="106.76" width="1.0" height="16.48" fill="#ef5350"/>
<rect x="538.92" y="109.40" width="2.6" height="13.06" fill="#ef5350"/>
<rect x="542.99" y="115.88" width="1.0" height="8.53" fill="#26a69a"/>
<rect x="542.19" y="117.03" width="2.6" height="5.42" fill="#26a69a"/>
<rect x="546.25" y="116.65" width="1.0" height="7.76" fill="#ef5350"/>
<rect x="545.45" y="117.03" width="2.6" height="6.98" fill="#ef5350"/>
<rect x="549.51" y="105.26" width="1.0" height="21.90" fill="#26a69a"/>
<rect x="548.71" y="107.13" width="2.6" height="16.88" fill="#26a69a"/>
<rect x="552.77" y="106.76" width="1.0" height="9.12" fill="#ef5350"/>
<rect x="551.97" y="107.13" width="2.6" height="5.68" fill="#ef5350"/>
<rect x="556.03" y="111.67" width="1.0" height="12.73" fill="#ef5350"/>
<rect x="555.23" y="112.82" width="2.6" height="7.30" fill="#ef5350"/>
<rect x="559.29" y="119.35" width="1.0" height="15.76" fill="#ef5350"/>
<rect x="558.49" y="120.12" width="2.6" height="13.38" fill="#ef5350"/>
<rect x="562.55" y="124.41" width="1.0" height="14.73" fill="#26a69a"/>
<rect x="561.75" y="126.76" width="2.6" height="6.74" fill="#26a69a"/>
<rect x="565.82" y="123.62" width="1.0" height="8.68" fill="#ef5350"/>
<rect x="565.02" y="126.76" width="2.6" height="1.97" fill="#ef5350"/>
<rect x="569.08" y="120.12" width="1.0" height="10.20" fill="#26a69a"/>
<rect x="568.28" y="123.62" width="2.6" height="5.11" fill="#26a69a"/>
<rect x="572.34" y="123.23" width="1.0" height="20.78" fill="#ef5350"/>
<rect x="571.54" y="123.62" width="2.6" height="16.73" fill="#ef5350"/>
<rect x="575.60" y="138.33" width="1.0" height="6.10" fill="#26a69a"/>
<rect x="574.80" y="138.73" width="2.6" height="1.62" fill="#26a69a"/>
<rect x="578.86" y="135.91" width="1.0" height="5.66" fill="#ef5350"/>
<rect x="578.06" y="138.73" width="2.6" height="2.03" fill="#ef5350"/>
<rect x="582.12" y="134.30" width="1.0" height="10.53" fill="#26a69a"/>
<rect x="581.32" y="137.12" width="2.6" height="3.64" fill="#26a69a"/>
<rect x="585.39" y="126.76" width="1.0" height="12.78" fill="#26a69a"/>
<rect x="584.59" y="129.13" width="2.6" height="7.99" fill="#26a69a"/>
<rect x="588.65" y="123.62" width="1.0" height="8.28" fill="#26a69a"/>
<rect x="587.85" y="127.16" width="2.6" height="1.97" fill="#26a69a"/>
<rect x="591.91" y="125.19" width="1.0" height="11.52" fill="#ef5350"/>
<rect x="591.11" y="127.16" width="2.6" height="3.96" fill="#ef5350"/>
<rect x="595.17" y="120.51" width="1.0" height="12.59" fill="#ef5350"/>
<rect x="594.37" y="130.81" width="2.6" height="0.80" fill="#ef5350"/>
<rect x="598.43" y="128.73" width="1.0" height="5.17" fill="#ef5350"/>
<rect x="597.63" y="131.31" width="2.6" height="1.79" fill="#ef5350"/>
<rect x="601.69" y="127.55" width="1.0" height="6.35" fill="#26a69a"/>
<rect x="600.89" y="129.53" width="2.6" height="3.58" fill="#26a69a"/>
<rect x="604.95" y="122.45" width="1.0" height="9.06" fill="#26a69a"/>
<rect x="604.15" y="125.58" width="2.6" height="3.94" fill="#26a69a"/>
<rect x="608.22" y="120.90" width="1.0" height="9.42" fill="#ef5350"/>
<rect x="607.42" y="125.58" width="2.6" height="2.36" fill="#ef5350"/>
<rect x="611.48" y="117.03" width="1.0" height="13.68" fill="#26a69a"/>
<rect x="610.68" y="118.57" width="2.6" height="9.37" fill="#26a69a"/>
<rect x="614.74" y="112.44" width="1.0" height="8.07" fill="#26a69a"/>
<rect x="613.94" y="112.44" width="2.6" height="6.14" fill="#26a69a"/>
<rect x="618.00" y="107.89" width="1.0" height="9.14" fill="#26a69a"/>
<rect x="617.20" y="110.16" width="2.6" height="2.28" fill="#26a69a"/>
<rect x="621.26" y="109.02" width="1.0" height="4.56" fill="#ef5350"/>
<rect x="620.46" y="110.14" width="2.6" height="0.80" fill="#ef5350"/>
<rect x="624.52" y="110.16" width="1.0" height="4.95" fill="#ef5350"/>
<rect x="623.72" y="110.91" width="2.6" height="2.28" fill="#ef5350"/>
<rect x="627.78" y="107.51" width="1.0" height="9.14" fill="#26a69a"/>
<rect x="626.99" y="112.70" width="2.6" height="0.80" fill="#26a69a"/>
<rect x="631.05" y="107.13" width="1.0" height="7.59" fill="#26a69a"/>
<rect x="630.25" y="107.51" width="2.6" height="5.50" fill="#26a69a"/>
<rect x="634.31" y="105.63" width="1.0" height="9.86" fill="#ef5350"/>
<rect x="633.51" y="107.51" width="2.6" height="1.13" fill="#ef5350"/>
<rect x="637.57" y="103.39" width="1.0" height="6.39" fill="#26a69a"/>
<rect x="636.77" y="106.38" width="2.6" height="2.26" fill="#26a69a"/>
<rect x="640.83" y="104.88" width="1.0" height="8.70" fill="#ef5350"/>
<rect x="640.03" y="106.38" width="2.6" height="5.29" fill="#ef5350"/>
<rect x="644.09" y="109.40" width="1.0" height="3.04" fill="#26a69a"/>
<rect x="643.29" y="111.18" width="2.6" height="0.80" fill="#26a69a"/>
<rect x="647.35" y="110.91" width="1.0" height="2.67" fill="#ef5350"/>
<rect x="646.55" y="111.48" width="2.6" height="2.10" fill="#ef5350"/>
<rect x="650.62" y="112.82" width="1.0" height="13.55" fill="#ef5350"/>
<rect x="649.82" y="113.58" width="2.6" height="9.65" fill="#ef5350"/>
<rect x="653.88" y="120.90" width="1.0" height="5.47" fill="#ef5350"/>
<rect x="653.08" y="123.23" width="2.6" height="2.74" fill="#ef5350"/>
<rect x="657.14" y="118.19" width="1.0" height="11.34" fill="#26a69a"/>
<rect x="656.34" y="120.90" width="2.6" height="5.08" fill="#26a69a"/>
<rect x="660.40" y="120.12" width="1.0" height="19.42" fill="#ef5350"/>
<rect x="659.60" y="120.90" width="2.6" height="17.02" fill="#ef5350"/>
<rect x="663.66" y="132.71" width="1.0" height="6.83" fill="#26a69a"/>
<rect x="662.86" y="135.11" width="2.6" height="2.82" fill="#26a69a"/>
<rect x="666.92" y="134.70" width="1.0" height="2.81" fill="#ef5350"/>
<rect x="666.12" y="134.81" width="2.6" height="0.80" fill="#ef5350"/>
<rect x="670.18" y="124.41" width="1.0" height="12.71" fill="#26a69a"/>
<rect x="669.38" y="125.58" width="2.6" height="9.72" fill="#26a69a"/>
<rect x="673.45" y="116.26" width="1.0" height="11.29" fill="#26a69a"/>
<rect x="672.65" y="116.65" width="2.6" height="8.94" fill="#26a69a"/>
<rect x="676.71" y="115.11" width="1.0" height="8.12" fill="#ef5350"/>
<rect x="675.91" y="116.65" width="2.6" height="1.54" fill="#ef5350"/>
<rect x="679.97" y="100.78" width="1.0" height="17.79" fill="#26a69a"/>
<rect x="679.17" y="100.78" width="2.6" height="17.41" fill="#26a69a"/>
<rect x="683.23" y="91.97" width="1.0" height="9.56" fill="#26a69a"/>
<rect x="682.43" y="93.79" width="2.6" height="6.99" fill="#26a69a"/>
<rect x="686.49" y="81.55" width="1.0" height="16.65" fill="#26a69a"/>
<rect x="685.69" y="87.27" width="2.6" height="6.52" fill="#26a69a"/>
<rect x="689.75" y="85.11" width="1.0" height="4.68" fill="#26a69a"/>
<rect x="688.95" y="86.69" width="2.6" height="0.80" fill="#26a69a"/>
<rect x="693.01" y="75.20" width="1.0" height="13.15" fill="#26a69a"/>
<rect x="692.22" y="82.97" width="2.6" height="3.94" fill="#26a69a"/>
<rect x="696.28" y="73.45" width="1.0" height="10.94" fill="#26a69a"/>
<rect x="695.48" y="78.71" width="2.6" height="4.25" fill="#26a69a"/>
<rect x="699.54" y="77.31" width="1.0" height="16.12" fill="#ef5350"/>
<rect x="698.74" y="78.71" width="2.6" height="11.80" fill="#ef5350"/>
<rect x="702.80" y="80.48" width="1.0" height="11.12" fill="#26a69a"/>
<rect x="702.00" y="83.68" width="2.6" height="6.83" fill="#26a69a"/>
<rect x="706.06" y="81.90" width="1.0" height="14.82" fill="#ef5350"/>
<rect x="705.26" y="83.68" width="2.6" height="5.75" fill="#ef5350"/>
<rect x="709.32" y="86.19" width="1.0" height="80.94" fill="#ef5350"/>
<rect x="708.52" y="89.43" width="2.6" height="31.86" fill="#ef5350"/>
<rect x="712.58" y="120.12" width="1.0" height="14.98" fill="#ef5350"/>
<rect x="711.78" y="121.29" width="2.6" height="10.22" fill="#ef5350"/>
<rect x="715.85" y="111.29" width="1.0" height="24.21" fill="#26a69a"/>
<rect x="715.05" y="113.96" width="2.6" height="17.55" fill="#26a69a"/>
<rect x="719.11" y="110.54" width="1.0" height="8.42" fill="#26a69a"/>
<rect x="718.31" y="113.18" width="2.6" height="0.80" fill="#26a69a"/>
<rect x="722.37" y="112.44" width="1.0" height="21.47" fill="#ef5350"/>
<rect x="721.57" y="113.20" width="2.6" height="8.87" fill="#ef5350"/>
<rect x="725.63" y="119.73" width="1.0" height="13.37" fill="#ef5350"/>
<rect x="724.83" y="122.06" width="2.6" height="9.05" fill="#ef5350"/>
<rect x="728.89" y="125.98" width="1.0" height="18.45" fill="#ef5350"/>
<rect x="728.09" y="131.11" width="2.6" height="10.05" fill="#ef5350"/>
<rect x="732.15" y="137.12" width="1.0" height="23.59" fill="#ef5350"/>
<rect x="731.35" y="141.16" width="2.6" height="7.38" fill="#ef5350"/>
<rect x="735.41" y="144.02" width="1.0" height="4.94" fill="#26a69a"/>
<rect x="734.61" y="145.25" width="2.6" height="3.30" fill="#26a69a"/>
<rect x="738.68" y="135.91" width="1.0" height="13.88" fill="#26a69a"/>
<rect x="737.88" y="139.54" width="2.6" height="5.71" fill="#26a69a"/>
<rect x="741.94" y="127.16" width="1.0" height="16.86" fill="#26a69a"/>
<rect x="741.14" y="131.91" width="2.6" height="7.63" fill="#26a69a"/>
<rect x="745.20" y="118.19" width="1.0" height="26.24" fill="#ef5350"/>
<rect x="744.40" y="131.91" width="2.6" height="8.44" fill="#ef5350"/>
<rect x="748.46" y="137.92" width="1.0" height="9.38" fill="#ef5350"/>
<rect x="747.66" y="140.35" width="2.6" height="3.26" fill="#ef5350"/>
<rect x="751.72" y="129.92" width="1.0" height="14.10" fill="#26a69a"/>
<rect x="750.92" y="133.90" width="2.6" height="9.71" fill="#26a69a"/>
<rect x="754.98" y="125.98" width="1.0" height="9.13" fill="#26a69a"/>
<rect x="754.18" y="129.92" width="2.6" height="3.98" fill="#26a69a"/>
<rect x="758.25" y="126.37" width="1.0" height="3.95" fill="#26a69a"/>
<rect x="757.45" y="127.55" width="2.6" height="2.37" fill="#26a69a"/>
<rect x="761.51" y="114.35" width="1.0" height="14.39" fill="#26a69a"/>
<rect x="760.71" y="116.26" width="2.6" height="11.29" fill="#26a69a"/>
<rect x="764.77" y="109.02" width="1.0" height="9.94" fill="#ef5350"/>
<rect x="763.97" y="116.26" width="2.6" height="1.54" fill="#ef5350"/>
<rect x="768.03" y="110.16" width="1.0" height="15.03" fill="#ef5350"/>
<rect x="767.23" y="117.80" width="2.6" height="4.65" fill="#ef5350"/>
<rect x="771.29" y="119.73" width="1.0" height="15.37" fill="#ef5350"/>
<rect x="770.49" y="122.45" width="2.6" height="11.45" fill="#ef5350"/>
<rect x="774.55" y="127.55" width="1.0" height="21.41" fill="#ef5350"/>
<rect x="773.75" y="133.90" width="2.6" height="6.85" fill="#ef5350"/>
<rect x="777.81" y="129.13" width="1.0" height="11.63" fill="#26a69a"/>
<rect x="777.01" y="135.51" width="2.6" height="5.25" fill="#26a69a"/>
<rect x="781.08" y="131.51" width="1.0" height="4.80" fill="#26a69a"/>
<rect x="780.28" y="133.50" width="2.6" height="2.00" fill="#26a69a"/>
<rect x="784.34" y="129.13" width="1.0" height="6.78" fill="#26a69a"/>
<rect x="783.54" y="131.51" width="2.6" height="1.99" fill="#26a69a"/>
<rect x="787.60" y="130.72" width="1.0" height="22.40" fill="#ef5350"/>
<rect x="786.80" y="131.51" width="2.6" height="16.62" fill="#ef5350"/>
<rect x="790.86" y="144.84" width="1.0" height="35.87" fill="#ef5350"/>
<rect x="790.06" y="148.13" width="2.6" height="21.16" fill="#ef5350"/>
<rect x="794.12" y="156.47" width="1.0" height="25.57" fill="#26a69a"/>
<rect x="793.32" y="159.01" width="2.6" height="10.28" fill="#26a69a"/>
<rect x="797.38" y="157.74" width="1.0" height="16.78" fill="#ef5350"/>
<rect x="796.58" y="159.01" width="2.6" height="11.15" fill="#ef5350"/>
<rect x="800.64" y="158.58" width="1.0" height="20.35" fill="#26a69a"/>
<rect x="799.84" y="161.55" width="2.6" height="8.60" fill="#26a69a"/>
<rect x="803.91" y="161.13" width="1.0" height="8.59" fill="#ef5350"/>
<rect x="803.11" y="161.55" width="2.6" height="4.28" fill="#ef5350"/>
<rect x="807.17" y="154.37" width="1.0" height="15.78" fill="#26a69a"/>
<rect x="806.37" y="155.63" width="2.6" height="10.20" fill="#26a69a"/>
<rect x="810.43" y="147.31" width="1.0" height="10.01" fill="#26a69a"/>
<rect x="809.63" y="150.20" width="2.6" height="5.43" fill="#26a69a"/>
<rect x="813.69" y="144.02" width="1.0" height="20.96" fill="#ef5350"/>
<rect x="812.89" y="150.20" width="2.6" height="12.63" fill="#ef5350"/>
<rect x="816.95" y="153.12" width="1.0" height="19.22" fill="#ef5350"/>
<rect x="816.15" y="162.83" width="2.6" height="5.81" fill="#ef5350"/>
<rect x="820.21" y="158.22" width="1.0" height="13.58" fill="#26a69a"/>
<rect x="819.41" y="160.53" width="2.6" height="8.09" fill="#26a69a"/>
<line x1="155.1" y1="142.1" x2="787.9" y2="33.5" stroke="#2a2e39" stroke-width="0.8"/>
<line x1="155.1" y1="217.2" x2="787.9" y2="108.6" stroke="#2a2e39" stroke-width="0.8"/>
<line x1="155.1" y1="179.64999999999998" x2="787.9" y2="71.05" stroke="#2962ff" stroke-width="0.9" stroke-dasharray="3 3"/>
<line x1="89.8" y1="73.50" x2="840.2" y2="73.50" stroke="#787b86" stroke-width="0.9" stroke-opacity="0.75"/>
<line x1="89.8" y1="118.50" x2="840.2" y2="118.50" stroke="#f23645" stroke-width="0.9" stroke-opacity="0.75"/>
<line x1="89.8" y1="148.50" x2="840.2" y2="148.50" stroke="#ff9800" stroke-width="0.9" stroke-opacity="0.75"/>
<line x1="89.8" y1="174.50" x2="840.2" y2="174.50" stroke="#4caf50" stroke-width="0.9" stroke-opacity="0.75"/>
<line x1="89.8" y1="201.50" x2="840.2" y2="201.50" stroke="#089981" stroke-width="0.9" stroke-opacity="0.75"/>
<line x1="89.8" y1="244.50" x2="840.2" y2="244.50" stroke="#00bcd4" stroke-width="0.9" stroke-opacity="0.75"/>
<line x1="89.8" y1="305.50" x2="840.2" y2="305.50" stroke="#787b86" stroke-width="0.9" stroke-opacity="0.75"/>
</g>
<text x="845.7" y="76.76" font-size="9" fill="#787b86" text-anchor="start" textLength="55.3" lengthAdjust="spacingAndGlyphs" stroke="#787b86" stroke-width="0.18">0 (126,139.57)</text>
<text x="845.7" y="121.40" font-size="9" fill="#f23645" text-anchor="start" textLength="71.6" lengthAdjust="spacingAndGlyphs" stroke="#f23645" stroke-width="0.18">0.236 (113,972.07)</text>
<text x="845.7" y="151.46" font-size="9" fill="#ff9800" text-anchor="start" textLength="71.3" lengthAdjust="spacingAndGlyphs" stroke="#ff9800" stroke-width="0.18">0.382 (106,444.72)</text>
<text x="845.7" y="177.35" font-size="9" fill="#4caf50" text-anchor="start" textLength="62.7" lengthAdjust="spacingAndGlyphs" stroke="#4caf50" stroke-width="0.18">0.5 (100,360.97)</text>
<text x="845.7" y="204.87" font-size="9" fill="#089981" text-anchor="start" textLength="67.3" lengthAdjust="spacingAndGlyphs" stroke="#089981" stroke-width="0.18">0.618 (94,277.22)</text>
<text x="845.7" y="247.27" font-size="9" fill="#00bcd4" text-anchor="start" textLength="67.3" lengthAdjust="spacingAndGlyphs" stroke="#00bcd4" stroke-width="0.18">0.786 (85,615.61)</text>
<text x="845.7" y="307.98" font-size="9" fill="#787b86" text-anchor="start" textLength="50.5" lengthAdjust="spacingAndGlyphs" stroke="#787b86" stroke-width="0.18">1 (74,582.37)</text>
<line x1="6.5" y1="160.53" x2="929" y2="160.53" stroke="#26a69a" stroke-width="0.8" stroke-dasharray="1 2"/>
<line x1="6.5" y1="366.8" x2="1017.5" y2="366.8" stroke="#e6e8ee" stroke-width="1"/>
<rect x="7.0" y="373.20" width="959.5" height="25.90" fill="rgba(126,87,194,0.1)"/>
<line x1="6.5" y1="373.20" x2="966.5" y2="373.20" stroke="#8f929b" stroke-width="0.9" stroke-dasharray="3.1 3.05"/>
<line x1="6.5" y1="386.15" x2="966.5" y2="386.15" stroke="#8f929b" stroke-width="0.9" stroke-dasharray="3.1 3.05"/>
<line x1="6.5" y1="399.10" x2="966.5" y2="399.10" stroke="#8f929b" stroke-width="0.9" stroke-dasharray="3.1 3.05"/>
<g clip-path="url(#rc)">
<polyline points="5.34,395.35 8.60,395.35 11.86,395.57 15.12,395.43 18.38,395.22 21.65,395.14 24.91,394.84 28.17,394.50 31.43,394.27 34.69,393.92 37.95,393.65 41.21,393.05 44.48,392.62 47.74,392.20 51.00,391.81 54.26,391.08 57.52,390.14 60.78,389.58 64.05,389.13 67.31,388.51 70.57,388.40 73.83,388.47 77.09,388.44 80.35,388.53 83.61,388.21 86.88,388.49 90.14,388.51 93.40,388.45 96.66,388.39 99.92,388.98 103.18,389.60 106.44,390.42 109.71,390.52 112.97,390.87 116.23,390.63 119.49,390.11 122.75,389.70 126.01,389.23 129.28,389.17 132.54,388.81 135.80,388.45 139.06,388.21 142.32,387.88 145.58,387.09 148.84,386.17 152.11,384.61 155.37,383.71 158.63,382.56 161.89,381.68 165.15,380.96 168.41,380.25 171.67,379.50 174.94,378.80 178.20,378.14 181.46,377.37 184.72,376.52 187.98,375.91 191.24,375.57 194.51,375.43 197.77,375.50 201.03,375.58 204.29,375.23 207.55,374.98 210.81,374.63 214.07,374.22 217.34,374.13 220.60,373.83 223.86,373.63 227.12,373.60 230.38,373.64 233.64,373.59 236.90,372.99 240.17,372.59 243.43,372.30 246.69,371.83 249.95,371.69 253.21,372.20 256.47,372.77 259.74,373.15 263.00,373.28 266.26,373.59 269.52,373.96 272.78,374.66 276.04,375.54 279.30,376.25 282.57,377.13 285.83,377.82 289.09,378.67 292.35,379.82 295.61,381.50 298.87,382.09 302.13,382.58 305.40,383.15 308.66,383.30 311.92,383.39 315.18,383.53 318.44,383.72 321.70,383.65 324.97,383.74 328.23,383.93 331.49,383.98 334.75,384.26 338.01,384.40 341.27,384.16 344.53,384.46 347.80,385.05 351.06,385.78 354.32,386.34 357.58,386.81 360.84,386.91 364.10,386.70 367.37,386.51 370.63,386.22 373.89,385.82 377.15,385.79 380.41,385.68 383.67,385.23 386.93,384.66 390.20,384.17 393.46,383.51 396.72,382.60 399.98,382.45 403.24,382.30 406.50,382.01 409.76,381.29 413.03,380.48 416.29,379.72 419.55,378.98 422.81,377.99 426.07,377.16 429.33,376.63 432.60,376.15 435.86,375.65 439.12,375.21 442.38,374.97 445.64,374.59 448.90,374.03 452.16,373.96 455.43,374.35 458.69,374.98 461.95,375.56 465.21,376.08 468.47,376.87 471.73,377.34 474.99,377.90 478.26,378.87 481.52,379.94 484.78,381.10 488.04,381.87 491.30,382.54 494.56,383.59 497.82,384.27 501.09,384.53 504.35,384.78 507.61,385.09 510.87,385.24 514.13,385.24 517.39,385.03 520.66,384.52 523.92,384.35 527.18,383.94 530.44,383.41 533.70,383.16 536.96,383.20 540.22,383.47 543.49,383.70 546.75,384.44 550.01,384.56 553.27,384.79 556.53,385.55 559.79,386.49 563.05,387.40 566.32,388.64 569.58,389.02 572.84,389.64 576.10,390.22 579.36,390.85 582.62,391.20 585.89,390.96 589.15,390.84 592.41,390.65 595.67,390.97 598.93,391.19 602.19,391.11 605.45,390.62 608.72,390.39 611.98,389.81 615.24,389.20 618.50,388.20 621.76,387.27 625.02,386.40 628.28,385.64 631.55,384.94 634.81,384.34 638.07,383.57 641.33,383.07 644.59,382.50 647.85,382.17 651.12,382.39 654.38,382.63 657.64,382.95 660.90,383.98 664.16,384.94 667.42,385.88 670.68,386.32 673.95,386.47 677.21,386.85 680.47,386.70 683.73,386.47 686.99,385.85 690.25,385.22 693.51,384.41 696.78,383.10 700.04,382.21 703.30,381.40 706.56,380.29 709.82,380.11 713.08,380.10 716.35,380.09 719.61,380.36 722.87,380.75 726.13,381.77 729.39,383.10 732.65,384.67 735.91,386.16 739.18,387.58 742.44,388.90 745.70,389.86 748.96,391.02 752.22,391.73 755.48,391.51 758.75,391.07 762.01,390.76 765.27,390.51 768.53,390.21 771.79,390.03 775.05,389.82 778.31,389.38 781.58,388.96 784.84,388.63 788.10,388.85 791.36,389.24 794.62,389.31 797.88,389.79 801.14,390.15 804.41,390.64 807.67,391.14 810.93,391.49 814.19,391.93 817.45,392.19 820.71,392.13" fill="none" stroke="#fdd835" stroke-width="1"/>
<polyline points="5.34,392.62 8.60,397.08 11.86,398.38 15.12,393.16 18.38,392.26 21.65,394.21 24.91,390.93 28.17,390.51 31.43,392.01 34.69,390.24 37.95,391.49 41.21,386.72 44.48,389.27 47.74,389.38 51.00,389.66 54.26,386.86 57.52,385.21 60.78,385.33 64.05,385.99 67.31,385.58 70.57,389.37 73.83,391.42 77.09,391.66 80.35,391.48 83.61,387.02 86.88,390.58 90.14,389.61 93.40,388.46 96.66,388.90 99.92,395.14 103.18,393.89 106.44,396.73 109.71,387.36 112.97,390.50 116.23,386.07 119.49,384.10 122.75,385.90 126.01,385.02 129.28,386.10 132.54,385.61 135.80,384.48 139.06,385.19 142.32,384.23 145.58,384.16 148.84,380.96 152.11,374.92 155.37,374.67 158.63,374.49 161.89,373.75 165.15,373.97 168.41,375.93 171.67,374.51 174.94,376.31 178.20,376.42 181.46,373.66 184.72,373.23 187.98,375.74 191.24,379.48 194.51,378.89 197.77,376.00 201.03,375.74 204.29,369.59 207.55,370.30 210.81,368.96 214.07,370.20 217.34,373.35 220.60,372.07 223.86,373.53 227.12,373.31 230.38,373.85 233.64,374.97 236.90,371.11 240.17,373.26 243.43,371.93 246.69,369.19 249.95,367.64 253.21,377.45 256.47,376.90 259.74,375.60 263.00,375.17 266.26,376.29 269.52,378.74 272.78,383.15 276.04,386.14 279.30,384.97 282.57,383.33 285.83,383.00 289.09,383.83 292.35,385.31 295.61,391.06 298.87,385.83 302.13,383.73 305.40,383.57 308.66,377.28 311.92,377.48 315.18,380.69 318.44,385.84 321.70,385.23 324.97,386.23 328.23,385.88 331.49,383.81 334.75,387.73 338.01,387.18 341.27,387.72 344.53,390.02 347.80,391.99 351.06,393.82 354.32,385.07 357.58,384.12 360.84,382.11 364.10,382.89 367.37,382.56 370.63,382.21 373.89,380.30 377.15,383.31 380.41,386.26 383.67,380.85 386.93,379.66 390.20,383.23 393.46,382.72 396.72,381.04 399.98,383.04 403.24,381.96 406.50,378.10 409.76,372.74 413.03,371.30 416.29,371.54 419.55,370.02 422.81,369.43 426.07,374.61 429.33,373.44 432.60,372.91 435.86,376.32 439.12,376.44 442.38,377.82 445.64,377.67 448.90,374.04 452.16,377.16 455.43,378.18 458.69,380.20 461.95,379.68 465.21,377.17 468.47,380.60 471.73,381.11 474.99,381.38 478.26,386.38 481.52,391.32 484.78,392.69 488.04,388.67 491.30,386.94 494.56,388.73 497.82,386.72 501.09,381.88 504.35,383.64 507.61,384.09 510.87,379.18 514.13,380.60 517.39,378.23 520.66,374.21 523.92,384.05 527.18,385.47 530.44,385.32 533.70,385.24 536.96,387.44 540.22,392.50 543.49,389.90 546.75,392.34 550.01,385.27 553.27,387.37 556.53,389.83 559.79,393.63 563.05,390.98 566.32,391.55 569.58,389.48 572.84,394.12 576.10,393.47 579.36,394.01 582.62,392.41 585.89,389.07 589.15,388.27 592.41,389.68 595.67,389.76 598.93,390.44 602.19,388.66 605.45,386.74 608.72,387.83 611.98,383.44 615.24,380.93 618.50,380.03 621.76,380.48 625.02,381.87 628.28,381.78 631.55,379.19 634.81,379.98 638.07,378.89 641.33,382.65 644.59,382.55 647.85,384.03 651.12,389.83 654.38,391.21 657.64,387.92 660.90,395.22 664.16,393.56 667.42,393.64 670.68,388.06 673.95,383.82 677.21,384.60 680.47,377.85 683.73,375.71 686.99,373.89 690.25,373.79 693.51,372.68 696.78,371.52 700.04,378.72 703.30,376.56 706.56,379.62 709.82,391.07 713.08,393.50 716.35,387.88 719.61,387.65 722.87,390.02 726.13,392.20 729.39,394.37 732.65,395.81 735.91,394.64 739.18,392.60 742.44,389.96 745.70,392.10 748.96,392.89 752.22,389.45 755.48,388.10 758.75,387.28 762.01,383.57 765.27,384.14 768.53,385.85 771.79,389.59 775.05,391.54 778.31,389.55 781.58,388.79 784.84,388.00 788.10,393.05 791.36,397.59 794.62,393.89 797.88,396.10 801.14,393.18 804.41,394.09 807.67,390.66 810.93,388.92 814.19,392.03 817.45,393.31 820.71,390.62" fill="none" stroke="#7e57c2" stroke-width="1"/>
</g>
<line x1="966.5" y1="18.5" x2="966.5" y2="430.5" stroke="#8a8d96" stroke-width="1"/>
<line x1="6.5" y1="411.3" x2="1017.5" y2="411.3" stroke="#9598a1" stroke-width="1"/>
<text x="973" y="62.80" font-size="8.9" fill="#3b3e48" text-anchor="start" textLength="37.7" lengthAdjust="spacingAndGlyphs" stroke="#3b3e48" stroke-width="0.18">130,000.00</text>
<text x="973" y="90.70" font-size="8.9" fill="#3b3e48" text-anchor="start" textLength="37.7" lengthAdjust="spacingAndGlyphs" stroke="#3b3e48" stroke-width="0.18">122,000.00</text>
<text x="973" y="120.40" font-size="8.9" fill="#3b3e48" text-anchor="start" textLength="37.7" lengthAdjust="spacingAndGlyphs" stroke="#3b3e48" stroke-width="0.18">114,000.00</text>
<text x="973" y="152.60" font-size="8.9" fill="#3b3e48" text-anchor="start" textLength="37.7" lengthAdjust="spacingAndGlyphs" stroke="#3b3e48" stroke-width="0.18">106,000.00</text>
<text x="973" y="196.20" font-size="8.9" fill="#3b3e48" text-anchor="start" textLength="33.6" lengthAdjust="spacingAndGlyphs" stroke="#3b3e48" stroke-width="0.18">96,000.00</text>
<text x="973" y="224.60" font-size="8.9" fill="#3b3e48" text-anchor="start" textLength="33.6" lengthAdjust="spacingAndGlyphs" stroke="#3b3e48" stroke-width="0.18">90,000.00</text>
<text x="973" y="244.60" font-size="8.9" fill="#3b3e48" text-anchor="start" textLength="33.6" lengthAdjust="spacingAndGlyphs" stroke="#3b3e48" stroke-width="0.18">86,000.00</text>
<text x="973" y="265.60" font-size="8.9" fill="#3b3e48" text-anchor="start" textLength="33.6" lengthAdjust="spacingAndGlyphs" stroke="#3b3e48" stroke-width="0.18">82,000.00</text>
<text x="973" y="287.60" font-size="8.9" fill="#3b3e48" text-anchor="start" textLength="33.6" lengthAdjust="spacingAndGlyphs" stroke="#3b3e48" stroke-width="0.18">78,000.00</text>
<text x="973" y="310.80" font-size="8.9" fill="#3b3e48" text-anchor="start" textLength="33.6" lengthAdjust="spacingAndGlyphs" stroke="#3b3e48" stroke-width="0.18">74,000.00</text>
<text x="973" y="335.20" font-size="8.9" fill="#3b3e48" text-anchor="start" textLength="33.6" lengthAdjust="spacingAndGlyphs" stroke="#3b3e48" stroke-width="0.18">70,000.00</text>
<text x="973" y="355.80" font-size="8.9" fill="#3b3e48" text-anchor="start" textLength="33.6" lengthAdjust="spacingAndGlyphs" stroke="#3b3e48" stroke-width="0.18">66,800.00</text>
<text x="973" y="395.6" font-size="8.9" fill="#3b3e48" text-anchor="start" textLength="20.5" lengthAdjust="spacingAndGlyphs" stroke="#3b3e48" stroke-width="0.18">40.00</text>
<rect x="969.5" y="22" width="44.5" height="17.5" rx="2" fill="#fff" stroke="#f0f1f4" stroke-width="1"/>
<text x="975.7" y="33.5" font-size="9" fill="#131722" text-anchor="start" font-weight="bold" textLength="19.3" lengthAdjust="spacingAndGlyphs">USDT</text>
<text x="83.5" y="423.9" font-size="8.9" fill="#3b3e48" text-anchor="middle" textLength="12.7" lengthAdjust="spacingAndGlyphs" stroke="#3b3e48" stroke-width="0.3">Apr</text>
<text x="181.2" y="423.9" font-size="8.9" fill="#3b3e48" text-anchor="middle" textLength="13.9" lengthAdjust="spacingAndGlyphs" stroke="#3b3e48" stroke-width="0.3">May</text>
<text x="282.4" y="423.9" font-size="8.9" fill="#3b3e48" text-anchor="middle" textLength="13.5" lengthAdjust="spacingAndGlyphs" stroke="#3b3e48" stroke-width="0.3">Jun</text>
<text x="380.2" y="423.9" font-size="8.9" fill="#3b3e48" text-anchor="middle" textLength="10.9" lengthAdjust="spacingAndGlyphs" stroke="#3b3e48" stroke-width="0.3">Jul</text>
<text x="481.2" y="423.9" font-size="8.9" fill="#3b3e48" text-anchor="middle" textLength="13.4" lengthAdjust="spacingAndGlyphs" stroke="#3b3e48" stroke-width="0.3">Aug</text>
<text x="582.4" y="423.9" font-size="8.9" fill="#3b3e48" text-anchor="middle" textLength="12.9" lengthAdjust="spacingAndGlyphs" stroke="#3b3e48" stroke-width="0.3">Sep</text>
<text x="680.7" y="423.9" font-size="8.9" fill="#3b3e48" text-anchor="middle" textLength="12.3" lengthAdjust="spacingAndGlyphs" stroke="#3b3e48" stroke-width="0.3">Oct</text>
<text x="781.8" y="423.9" font-size="8.9" fill="#3b3e48" text-anchor="middle" textLength="13.6" lengthAdjust="spacingAndGlyphs" stroke="#3b3e48" stroke-width="0.3">Nov</text>
<text x="879.8" y="423.9" font-size="8.9" fill="#3b3e48" text-anchor="middle" textLength="13.6" lengthAdjust="spacingAndGlyphs" stroke="#3b3e48" stroke-width="0.3">Dec</text>
<path d="M931,155.2 H966.5 V166 H931 Q929.3,166 929.3,164.3 V156.9 Q929.3,155.2 931,155.2 Z" fill="#26a69a"/>
<text x="932" y="163.7" font-size="8.6" fill="#fff" text-anchor="start" textLength="31.5" lengthAdjust="spacingAndGlyphs" stroke="#fff" stroke-width="0.18">BTCUSDT</text>
<path d="M966.5,155.2 H1012.3 Q1014,155.2 1014,156.9 V173.3 Q1014,175 1012.3,175 H966.5 Z" fill="#26a69a"/>
<text x="973" y="163.3" font-size="8.6" fill="#fff" text-anchor="start" textLength="37.2" lengthAdjust="spacingAndGlyphs" stroke="#fff" stroke-width="0.18">103,540.19</text>
<text x="973" y="172.5" font-size="8.6" fill="#fff" text-anchor="start" textLength="29.5" lengthAdjust="spacingAndGlyphs" stroke="#fff" stroke-width="0.18">15:49:54</text>
<text x="7" y="13.6" font-size="8.6" fill="#131722" text-anchor="start" textLength="277" lengthAdjust="spacingAndGlyphs" stroke="#131722" stroke-width="0.18">Jake_Simmons created with TradingView.com, Nov 13, 2025 03:10 UTC-5</text>
<text x="12.6" y="32.7" font-size="8.9" fill="#4a4d57" text-anchor="start" textLength="125.3" lengthAdjust="spacingAndGlyphs" stroke="#4a4d57" stroke-width="0.18">Bitcoin / TetherUS · 1D · Binance</text>
<text x="144.1" y="32.7" font-size="8.9" fill="#4a4d57" textLength="46.9" lengthAdjust="spacingAndGlyphs">O<tspan fill="#9a9ca4">101,654.37</tspan></text>
<text x="197.1" y="32.7" font-size="8.9" fill="#4a4d57" textLength="46.1" lengthAdjust="spacingAndGlyphs">H<tspan fill="#9a9ca4">104,085.01</tspan></text>
<text x="249.8" y="32.7" font-size="8.9" fill="#4a4d57" textLength="46.7" lengthAdjust="spacingAndGlyphs">L<tspan fill="#9a9ca4">100,922.55</tspan></text>
<text x="300.7" y="32.7" font-size="8.9" fill="#4a4d57" textLength="46.8" lengthAdjust="spacingAndGlyphs">C<tspan fill="#9a9ca4">103,540.19</tspan></text>
<text x="353.2" y="32.7" font-size="8.9" fill="#9a9ca4" text-anchor="start" textLength="72" lengthAdjust="spacingAndGlyphs" stroke="#9a9ca4" stroke-width="0.18">+1,885.82 (+1.86%)</text>
<text x="12.7" y="44.7" font-size="8.9" fill="#4a4d57" text-anchor="start" textLength="34" lengthAdjust="spacingAndGlyphs" stroke="#4a4d57" stroke-width="0.18">Vol · BTC</text>
<text x="52" y="44.7" font-size="8.9" fill="#26a69a" text-anchor="start" textLength="23.1" lengthAdjust="spacingAndGlyphs" stroke="#26a69a" stroke-width="0.18">8.08 K</text>
<text x="12.7" y="56.0" font-size="8.9" fill="#4a4d57" text-anchor="start" textLength="75.5" lengthAdjust="spacingAndGlyphs" stroke="#4a4d57" stroke-width="0.18">EMA 20/50/100/200</text>
<text x="94.3" y="56.0" font-size="8.9" fill="#f23645" text-anchor="start" textLength="41.0" lengthAdjust="spacingAndGlyphs" stroke="#f23645" stroke-width="0.18">106,027.63</text>
<text x="141.8" y="56.0" font-size="8.9" fill="#ff9800" text-anchor="start" textLength="40.4" lengthAdjust="spacingAndGlyphs" stroke="#ff9800" stroke-width="0.18">109,394.15</text>
<text x="188.6" y="56.0" font-size="8.9" fill="#33e0f0" text-anchor="start" textLength="40.4" lengthAdjust="spacingAndGlyphs" stroke="#33e0f0" stroke-width="0.18">110,660.71</text>
<text x="235.5" y="56.0" font-size="8.9" fill="#2828d8" text-anchor="start" textLength="41.5" lengthAdjust="spacingAndGlyphs" stroke="#2828d8" stroke-width="0.18">107,870.60</text>
<text x="12.5" y="381" font-size="8.9" fill="#4a4d57" text-anchor="start" textLength="54" lengthAdjust="spacingAndGlyphs" stroke="#4a4d57" stroke-width="0.18">RSI (14, close)</text>
<text x="72" y="381" font-size="8.9" fill="#7e57c2" text-anchor="start" textLength="20" lengthAdjust="spacingAndGlyphs" stroke="#7e57c2" stroke-width="0.18">43.05</text>
<text x="98" y="381" font-size="8.9" fill="#fdd835" text-anchor="start" textLength="20" lengthAdjust="spacingAndGlyphs" stroke="#fdd835" stroke-width="0.18">40.74</text>
<text x="124" y="381" font-size="8" fill="#4a4d57" text-anchor="start" stroke="#4a4d57" stroke-width="0.18">∅</text>
<text x="137.5" y="381" font-size="8" fill="#4a4d57" text-anchor="start" stroke="#4a4d57" stroke-width="0.18">∅</text>
<g fill="#131722"><path d="M8.15,446.1 H16.6 V456.75 H12.4 V449.9 H8.15 Z"/><circle cx="20.1" cy="448.1" r="1.85"/><path d="M24.5,446.1 H28.9 L25.05,456.75 H20.2 Z"/></g>
<text x="34.2" y="457.2" font-size="15.2" fill="#131722" text-anchor="start" font-weight="bold" textLength="85.3" lengthAdjust="spacingAndGlyphs">TradingView</text>
</svg>
</body></html>
